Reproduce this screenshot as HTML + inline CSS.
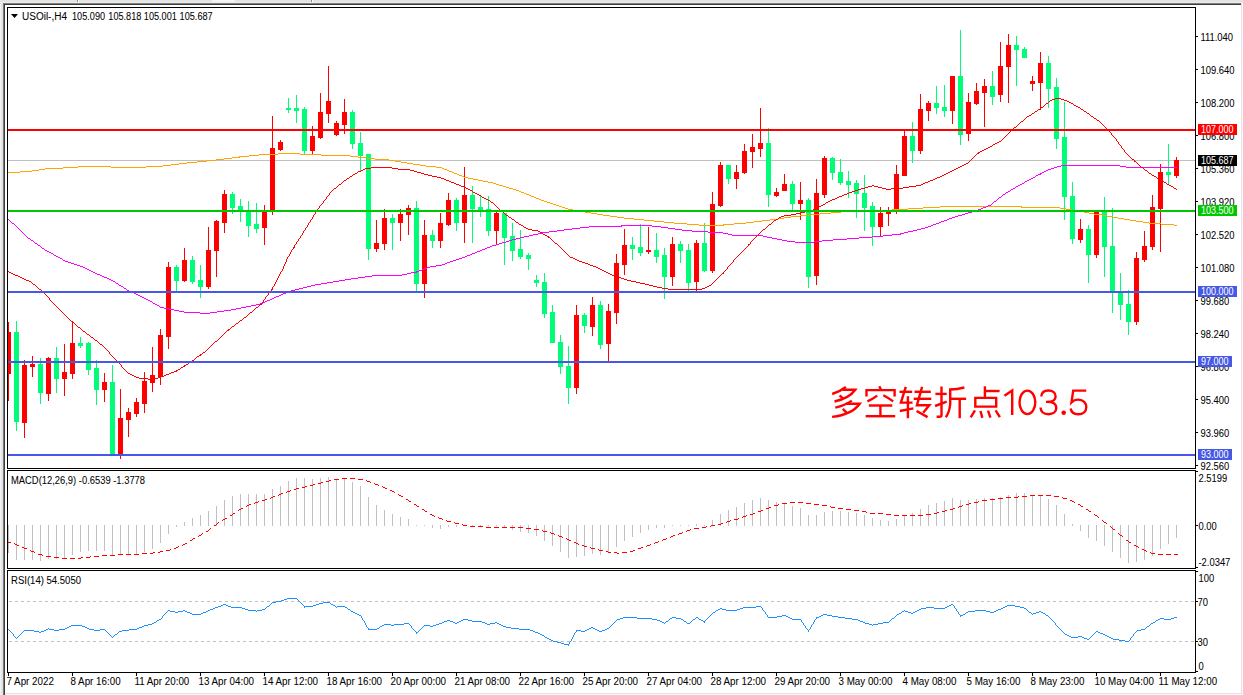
<!DOCTYPE html>
<html><head><meta charset="utf-8"><title>USOil H4</title>
<style>html,body{margin:0;padding:0;background:#e3e3e3;}body{width:1243px;height:695px;overflow:hidden;}svg{display:block;}</style>
</head><body>
<svg width="1243" height="695" viewBox="0 0 1243 695">
<rect x="0" y="0" width="1243" height="695" fill="#e3e3e3"/>
<rect x="212" y="0" width="23" height="2" fill="#f4f4f4"/>
<rect x="77" y="0" width="1" height="3" fill="#8c8c8c"/>
<rect x="78" y="0" width="1" height="3" fill="#fafafa"/>
<rect x="311" y="0" width="1" height="3" fill="#8c8c8c"/>
<rect x="312" y="0" width="1" height="3" fill="#fafafa"/>
<rect x="0" y="2" width="1243" height="1" fill="#ebebeb"/>
<rect x="0" y="4" width="1" height="691" fill="#f2f2f2"/>
<rect x="3" y="3" width="1238" height="1" fill="#808080"/>
<rect x="3" y="3" width="1" height="692" fill="#7a7a7a"/>
<rect x="4" y="4" width="1237" height="1" fill="#3c3c3c"/>
<rect x="4" y="4" width="1" height="691" fill="#3c3c3c"/>
<rect x="5" y="5" width="1236" height="688" fill="#ffffff"/>
<rect x="1241" y="4" width="1" height="690" fill="#e4e4e4"/>
<rect x="5" y="693" width="1237" height="1" fill="#e4e4e4"/>
<rect x="1242" y="3" width="1" height="692" fill="#fafafa"/>
<rect x="5" y="694" width="1238" height="1" fill="#fafafa"/>
<rect x="7" y="7" width="1189" height="1" fill="#000"/>
<rect x="7" y="468" width="1189" height="1" fill="#000"/>
<rect x="7" y="7" width="1" height="462" fill="#000"/>
<rect x="1195" y="7" width="1" height="462" fill="#000"/>
<rect x="7" y="470" width="1189" height="1" fill="#000"/>
<rect x="7" y="568" width="1189" height="1" fill="#000"/>
<rect x="7" y="470" width="1" height="99" fill="#000"/>
<rect x="1195" y="470" width="1" height="99" fill="#000"/>
<rect x="7" y="570" width="1189" height="1" fill="#000"/>
<rect x="7" y="672" width="1189" height="1" fill="#000"/>
<rect x="7" y="570" width="1" height="103" fill="#000"/>
<rect x="1195" y="570" width="1" height="103" fill="#000"/>
<defs><clipPath id="cm"><rect x="8" y="8" width="1187" height="460"/></clipPath><clipPath id="cd"><rect x="8" y="471" width="1187" height="97"/></clipPath><clipPath id="cr"><rect x="8" y="571" width="1187" height="101"/></clipPath></defs>
<g clip-path="url(#cm)">
<rect x="8" y="160" width="1187" height="1" fill="#c0c0c0"/>
<rect x="8" y="322" width="1" height="79" fill="#ff0000"/>
<rect x="6" y="332" width="5" height="42" fill="#ff0000"/>
<rect x="16" y="321" width="1" height="110" fill="#00fd78"/>
<rect x="14" y="332" width="5" height="90" fill="#00fd78"/>
<rect x="24" y="360" width="1" height="78" fill="#ff0000"/>
<rect x="22" y="365" width="5" height="58" fill="#ff0000"/>
<rect x="32" y="356" width="1" height="21" fill="#ff0000"/>
<rect x="30" y="364" width="5" height="3" fill="#ff0000"/>
<rect x="40" y="358" width="1" height="46" fill="#00fd78"/>
<rect x="38" y="364" width="5" height="29" fill="#00fd78"/>
<rect x="48" y="357" width="1" height="44" fill="#ff0000"/>
<rect x="46" y="358" width="5" height="36" fill="#ff0000"/>
<rect x="56" y="347" width="1" height="46" fill="#00fd78"/>
<rect x="54" y="358" width="5" height="21" fill="#00fd78"/>
<rect x="64" y="344" width="1" height="52" fill="#ff0000"/>
<rect x="62" y="372" width="5" height="7" fill="#ff0000"/>
<rect x="72" y="322" width="1" height="57" fill="#ff0000"/>
<rect x="70" y="343" width="5" height="31" fill="#ff0000"/>
<rect x="80" y="337" width="1" height="11" fill="#00fd78"/>
<rect x="78" y="343" width="5" height="3" fill="#00fd78"/>
<rect x="88" y="342" width="1" height="33" fill="#00fd78"/>
<rect x="86" y="343" width="5" height="27" fill="#00fd78"/>
<rect x="96" y="360" width="1" height="45" fill="#00fd78"/>
<rect x="94" y="368" width="5" height="22" fill="#00fd78"/>
<rect x="104" y="373" width="1" height="29" fill="#ff0000"/>
<rect x="102" y="382" width="5" height="8" fill="#ff0000"/>
<rect x="112" y="365" width="1" height="90" fill="#00fd78"/>
<rect x="110" y="382" width="5" height="73" fill="#00fd78"/>
<rect x="120" y="389" width="1" height="70" fill="#ff0000"/>
<rect x="118" y="418" width="5" height="37" fill="#ff0000"/>
<rect x="128" y="408" width="1" height="29" fill="#ff0000"/>
<rect x="126" y="412" width="5" height="8" fill="#ff0000"/>
<rect x="136" y="398" width="1" height="19" fill="#ff0000"/>
<rect x="134" y="402" width="5" height="12" fill="#ff0000"/>
<rect x="144" y="372" width="1" height="41" fill="#ff0000"/>
<rect x="142" y="381" width="5" height="23" fill="#ff0000"/>
<rect x="152" y="347" width="1" height="45" fill="#ff0000"/>
<rect x="150" y="375" width="5" height="8" fill="#ff0000"/>
<rect x="160" y="329" width="1" height="56" fill="#ff0000"/>
<rect x="158" y="335" width="5" height="42" fill="#ff0000"/>
<rect x="168" y="262" width="1" height="87" fill="#ff0000"/>
<rect x="166" y="267" width="5" height="70" fill="#ff0000"/>
<rect x="176" y="265" width="1" height="27" fill="#00fd78"/>
<rect x="174" y="267" width="5" height="14" fill="#00fd78"/>
<rect x="184" y="248" width="1" height="34" fill="#ff0000"/>
<rect x="182" y="260" width="5" height="21" fill="#ff0000"/>
<rect x="192" y="256" width="1" height="28" fill="#00fd78"/>
<rect x="190" y="260" width="5" height="22" fill="#00fd78"/>
<rect x="200" y="265" width="1" height="33" fill="#00fd78"/>
<rect x="198" y="280" width="5" height="7" fill="#00fd78"/>
<rect x="208" y="227" width="1" height="62" fill="#ff0000"/>
<rect x="206" y="250" width="5" height="37" fill="#ff0000"/>
<rect x="216" y="220" width="1" height="57" fill="#ff0000"/>
<rect x="214" y="221" width="5" height="30" fill="#ff0000"/>
<rect x="224" y="190" width="1" height="43" fill="#ff0000"/>
<rect x="222" y="194" width="5" height="29" fill="#ff0000"/>
<rect x="232" y="192" width="1" height="22" fill="#00fd78"/>
<rect x="230" y="194" width="5" height="14" fill="#00fd78"/>
<rect x="240" y="199" width="1" height="23" fill="#00fd78"/>
<rect x="238" y="206" width="5" height="5" fill="#00fd78"/>
<rect x="248" y="201" width="1" height="36" fill="#00fd78"/>
<rect x="246" y="212" width="5" height="14" fill="#00fd78"/>
<rect x="256" y="203" width="1" height="30" fill="#00fd78"/>
<rect x="254" y="224" width="5" height="5" fill="#00fd78"/>
<rect x="264" y="205" width="1" height="40" fill="#ff0000"/>
<rect x="262" y="212" width="5" height="16" fill="#ff0000"/>
<rect x="272" y="116" width="1" height="99" fill="#ff0000"/>
<rect x="270" y="148" width="5" height="64" fill="#ff0000"/>
<rect x="280" y="140" width="1" height="11" fill="#ff0000"/>
<rect x="278" y="142" width="5" height="8" fill="#ff0000"/>
<rect x="288" y="98" width="1" height="15" fill="#00fd78"/>
<rect x="286" y="108" width="5" height="2" fill="#00fd78"/>
<rect x="296" y="95" width="1" height="28" fill="#00fd78"/>
<rect x="294" y="108" width="5" height="3" fill="#00fd78"/>
<rect x="304" y="107" width="1" height="48" fill="#00fd78"/>
<rect x="302" y="109" width="5" height="42" fill="#00fd78"/>
<rect x="312" y="126" width="1" height="29" fill="#ff0000"/>
<rect x="310" y="136" width="5" height="15" fill="#ff0000"/>
<rect x="320" y="93" width="1" height="46" fill="#ff0000"/>
<rect x="318" y="112" width="5" height="26" fill="#ff0000"/>
<rect x="328" y="66" width="1" height="57" fill="#ff0000"/>
<rect x="326" y="101" width="5" height="13" fill="#ff0000"/>
<rect x="336" y="121" width="1" height="15" fill="#ff0000"/>
<rect x="334" y="123" width="5" height="12" fill="#ff0000"/>
<rect x="344" y="99" width="1" height="35" fill="#ff0000"/>
<rect x="342" y="112" width="5" height="13" fill="#ff0000"/>
<rect x="352" y="110" width="1" height="39" fill="#00fd78"/>
<rect x="350" y="112" width="5" height="32" fill="#00fd78"/>
<rect x="360" y="132" width="1" height="40" fill="#00fd78"/>
<rect x="358" y="143" width="5" height="13" fill="#00fd78"/>
<rect x="368" y="154" width="1" height="106" fill="#00fd78"/>
<rect x="366" y="154" width="5" height="95" fill="#00fd78"/>
<rect x="376" y="220" width="1" height="32" fill="#ff0000"/>
<rect x="374" y="243" width="5" height="6" fill="#ff0000"/>
<rect x="384" y="209" width="1" height="41" fill="#ff0000"/>
<rect x="382" y="218" width="5" height="26" fill="#ff0000"/>
<rect x="392" y="214" width="1" height="36" fill="#00fd78"/>
<rect x="390" y="218" width="5" height="5" fill="#00fd78"/>
<rect x="400" y="209" width="1" height="32" fill="#ff0000"/>
<rect x="398" y="214" width="5" height="9" fill="#ff0000"/>
<rect x="408" y="205" width="1" height="30" fill="#ff0000"/>
<rect x="406" y="208" width="5" height="7" fill="#ff0000"/>
<rect x="416" y="201" width="1" height="91" fill="#00fd78"/>
<rect x="414" y="208" width="5" height="76" fill="#00fd78"/>
<rect x="424" y="220" width="1" height="78" fill="#ff0000"/>
<rect x="422" y="235" width="5" height="49" fill="#ff0000"/>
<rect x="432" y="230" width="1" height="18" fill="#00fd78"/>
<rect x="430" y="235" width="5" height="6" fill="#00fd78"/>
<rect x="440" y="213" width="1" height="35" fill="#ff0000"/>
<rect x="438" y="223" width="5" height="18" fill="#ff0000"/>
<rect x="448" y="193" width="1" height="33" fill="#ff0000"/>
<rect x="446" y="200" width="5" height="25" fill="#ff0000"/>
<rect x="456" y="198" width="1" height="33" fill="#00fd78"/>
<rect x="454" y="200" width="5" height="23" fill="#00fd78"/>
<rect x="464" y="167" width="1" height="76" fill="#ff0000"/>
<rect x="462" y="195" width="5" height="28" fill="#ff0000"/>
<rect x="472" y="186" width="1" height="57" fill="#00fd78"/>
<rect x="470" y="195" width="5" height="14" fill="#00fd78"/>
<rect x="480" y="195" width="1" height="22" fill="#00fd78"/>
<rect x="478" y="207" width="5" height="3" fill="#00fd78"/>
<rect x="488" y="196" width="1" height="40" fill="#00fd78"/>
<rect x="486" y="209" width="5" height="22" fill="#00fd78"/>
<rect x="496" y="212" width="1" height="33" fill="#ff0000"/>
<rect x="494" y="213" width="5" height="18" fill="#ff0000"/>
<rect x="504" y="213" width="1" height="52" fill="#00fd78"/>
<rect x="502" y="213" width="5" height="25" fill="#00fd78"/>
<rect x="512" y="223" width="1" height="38" fill="#00fd78"/>
<rect x="510" y="236" width="5" height="15" fill="#00fd78"/>
<rect x="520" y="230" width="1" height="29" fill="#00fd78"/>
<rect x="518" y="249" width="5" height="8" fill="#00fd78"/>
<rect x="528" y="253" width="1" height="17" fill="#00fd78"/>
<rect x="526" y="255" width="5" height="4" fill="#00fd78"/>
<rect x="536" y="275" width="1" height="12" fill="#00fd78"/>
<rect x="534" y="280" width="5" height="3" fill="#00fd78"/>
<rect x="544" y="273" width="1" height="45" fill="#00fd78"/>
<rect x="542" y="282" width="5" height="32" fill="#00fd78"/>
<rect x="552" y="305" width="1" height="38" fill="#00fd78"/>
<rect x="550" y="312" width="5" height="31" fill="#00fd78"/>
<rect x="560" y="335" width="1" height="39" fill="#00fd78"/>
<rect x="558" y="342" width="5" height="25" fill="#00fd78"/>
<rect x="568" y="346" width="1" height="58" fill="#00fd78"/>
<rect x="566" y="366" width="5" height="22" fill="#00fd78"/>
<rect x="576" y="305" width="1" height="89" fill="#ff0000"/>
<rect x="574" y="315" width="5" height="73" fill="#ff0000"/>
<rect x="584" y="313" width="1" height="20" fill="#00fd78"/>
<rect x="582" y="315" width="5" height="11" fill="#00fd78"/>
<rect x="592" y="297" width="1" height="39" fill="#ff0000"/>
<rect x="590" y="305" width="5" height="22" fill="#ff0000"/>
<rect x="600" y="301" width="1" height="48" fill="#00fd78"/>
<rect x="598" y="305" width="5" height="40" fill="#00fd78"/>
<rect x="608" y="304" width="1" height="58" fill="#ff0000"/>
<rect x="606" y="311" width="5" height="33" fill="#ff0000"/>
<rect x="616" y="254" width="1" height="70" fill="#ff0000"/>
<rect x="614" y="263" width="5" height="50" fill="#ff0000"/>
<rect x="624" y="229" width="1" height="46" fill="#ff0000"/>
<rect x="622" y="245" width="5" height="20" fill="#ff0000"/>
<rect x="632" y="237" width="1" height="23" fill="#00fd78"/>
<rect x="630" y="245" width="5" height="4" fill="#00fd78"/>
<rect x="640" y="224" width="1" height="32" fill="#00fd78"/>
<rect x="638" y="247" width="5" height="6" fill="#00fd78"/>
<rect x="648" y="227" width="1" height="27" fill="#ff0000"/>
<rect x="646" y="250" width="5" height="2" fill="#ff0000"/>
<rect x="656" y="233" width="1" height="30" fill="#00fd78"/>
<rect x="654" y="250" width="5" height="7" fill="#00fd78"/>
<rect x="664" y="248" width="1" height="51" fill="#00fd78"/>
<rect x="662" y="255" width="5" height="22" fill="#00fd78"/>
<rect x="672" y="237" width="1" height="49" fill="#ff0000"/>
<rect x="670" y="244" width="5" height="33" fill="#ff0000"/>
<rect x="680" y="241" width="1" height="22" fill="#00fd78"/>
<rect x="678" y="244" width="5" height="7" fill="#00fd78"/>
<rect x="688" y="244" width="1" height="47" fill="#00fd78"/>
<rect x="686" y="250" width="5" height="33" fill="#00fd78"/>
<rect x="696" y="240" width="1" height="51" fill="#ff0000"/>
<rect x="694" y="243" width="5" height="39" fill="#ff0000"/>
<rect x="704" y="223" width="1" height="49" fill="#00fd78"/>
<rect x="702" y="243" width="5" height="28" fill="#00fd78"/>
<rect x="712" y="192" width="1" height="81" fill="#ff0000"/>
<rect x="710" y="204" width="5" height="67" fill="#ff0000"/>
<rect x="720" y="162" width="1" height="45" fill="#ff0000"/>
<rect x="718" y="165" width="5" height="41" fill="#ff0000"/>
<rect x="728" y="165" width="1" height="19" fill="#00fd78"/>
<rect x="726" y="165" width="5" height="14" fill="#00fd78"/>
<rect x="736" y="165" width="1" height="24" fill="#ff0000"/>
<rect x="734" y="172" width="5" height="7" fill="#ff0000"/>
<rect x="744" y="144" width="1" height="30" fill="#ff0000"/>
<rect x="742" y="151" width="5" height="22" fill="#ff0000"/>
<rect x="752" y="134" width="1" height="34" fill="#ff0000"/>
<rect x="750" y="147" width="5" height="5" fill="#ff0000"/>
<rect x="760" y="108" width="1" height="49" fill="#ff0000"/>
<rect x="758" y="143" width="5" height="6" fill="#ff0000"/>
<rect x="768" y="128" width="1" height="79" fill="#00fd78"/>
<rect x="766" y="143" width="5" height="52" fill="#00fd78"/>
<rect x="776" y="188" width="1" height="9" fill="#ff0000"/>
<rect x="774" y="192" width="5" height="4" fill="#ff0000"/>
<rect x="784" y="174" width="1" height="17" fill="#ff0000"/>
<rect x="782" y="184" width="5" height="7" fill="#ff0000"/>
<rect x="792" y="181" width="1" height="31" fill="#00fd78"/>
<rect x="790" y="184" width="5" height="20" fill="#00fd78"/>
<rect x="800" y="182" width="1" height="38" fill="#ff0000"/>
<rect x="798" y="200" width="5" height="4" fill="#ff0000"/>
<rect x="808" y="198" width="1" height="90" fill="#00fd78"/>
<rect x="806" y="200" width="5" height="77" fill="#00fd78"/>
<rect x="816" y="179" width="1" height="106" fill="#ff0000"/>
<rect x="814" y="193" width="5" height="83" fill="#ff0000"/>
<rect x="824" y="156" width="1" height="42" fill="#ff0000"/>
<rect x="822" y="158" width="5" height="37" fill="#ff0000"/>
<rect x="832" y="157" width="1" height="23" fill="#00fd78"/>
<rect x="830" y="158" width="5" height="15" fill="#00fd78"/>
<rect x="840" y="159" width="1" height="26" fill="#00fd78"/>
<rect x="838" y="172" width="5" height="11" fill="#00fd78"/>
<rect x="848" y="171" width="1" height="27" fill="#00fd78"/>
<rect x="846" y="181" width="5" height="4" fill="#00fd78"/>
<rect x="856" y="180" width="1" height="38" fill="#00fd78"/>
<rect x="854" y="183" width="5" height="11" fill="#00fd78"/>
<rect x="864" y="175" width="1" height="56" fill="#00fd78"/>
<rect x="862" y="193" width="5" height="15" fill="#00fd78"/>
<rect x="872" y="202" width="1" height="44" fill="#00fd78"/>
<rect x="870" y="206" width="5" height="21" fill="#00fd78"/>
<rect x="880" y="207" width="1" height="30" fill="#ff0000"/>
<rect x="878" y="213" width="5" height="14" fill="#ff0000"/>
<rect x="888" y="207" width="1" height="19" fill="#ff0000"/>
<rect x="886" y="212" width="5" height="2" fill="#ff0000"/>
<rect x="896" y="165" width="1" height="49" fill="#ff0000"/>
<rect x="894" y="174" width="5" height="37" fill="#ff0000"/>
<rect x="904" y="131" width="1" height="45" fill="#ff0000"/>
<rect x="902" y="136" width="5" height="40" fill="#ff0000"/>
<rect x="912" y="122" width="1" height="41" fill="#00fd78"/>
<rect x="910" y="136" width="5" height="15" fill="#00fd78"/>
<rect x="920" y="94" width="1" height="60" fill="#ff0000"/>
<rect x="918" y="109" width="5" height="42" fill="#ff0000"/>
<rect x="928" y="101" width="1" height="20" fill="#ff0000"/>
<rect x="926" y="103" width="5" height="8" fill="#ff0000"/>
<rect x="936" y="86" width="1" height="28" fill="#00fd78"/>
<rect x="934" y="103" width="5" height="5" fill="#00fd78"/>
<rect x="944" y="85" width="1" height="32" fill="#00fd78"/>
<rect x="942" y="107" width="5" height="4" fill="#00fd78"/>
<rect x="952" y="76" width="1" height="48" fill="#ff0000"/>
<rect x="950" y="76" width="5" height="35" fill="#ff0000"/>
<rect x="960" y="30" width="1" height="115" fill="#00fd78"/>
<rect x="958" y="76" width="5" height="59" fill="#00fd78"/>
<rect x="968" y="93" width="1" height="48" fill="#ff0000"/>
<rect x="966" y="102" width="5" height="32" fill="#ff0000"/>
<rect x="976" y="83" width="1" height="22" fill="#ff0000"/>
<rect x="974" y="91" width="5" height="13" fill="#ff0000"/>
<rect x="984" y="79" width="1" height="48" fill="#ff0000"/>
<rect x="982" y="86" width="5" height="7" fill="#ff0000"/>
<rect x="992" y="71" width="1" height="34" fill="#00fd78"/>
<rect x="990" y="86" width="5" height="11" fill="#00fd78"/>
<rect x="1000" y="42" width="1" height="60" fill="#ff0000"/>
<rect x="998" y="66" width="5" height="29" fill="#ff0000"/>
<rect x="1008" y="34" width="1" height="69" fill="#ff0000"/>
<rect x="1006" y="45" width="5" height="22" fill="#ff0000"/>
<rect x="1016" y="36" width="1" height="50" fill="#00fd78"/>
<rect x="1014" y="45" width="5" height="5" fill="#00fd78"/>
<rect x="1024" y="47" width="1" height="11" fill="#00fd78"/>
<rect x="1022" y="49" width="5" height="9" fill="#00fd78"/>
<rect x="1032" y="76" width="1" height="15" fill="#ff0000"/>
<rect x="1030" y="81" width="5" height="3" fill="#ff0000"/>
<rect x="1040" y="52" width="1" height="58" fill="#ff0000"/>
<rect x="1038" y="63" width="5" height="20" fill="#ff0000"/>
<rect x="1048" y="56" width="1" height="52" fill="#00fd78"/>
<rect x="1046" y="63" width="5" height="26" fill="#00fd78"/>
<rect x="1056" y="78" width="1" height="71" fill="#00fd78"/>
<rect x="1054" y="87" width="5" height="52" fill="#00fd78"/>
<rect x="1064" y="102" width="1" height="118" fill="#00fd78"/>
<rect x="1062" y="137" width="5" height="60" fill="#00fd78"/>
<rect x="1072" y="182" width="1" height="62" fill="#00fd78"/>
<rect x="1070" y="196" width="5" height="43" fill="#00fd78"/>
<rect x="1080" y="219" width="1" height="24" fill="#ff0000"/>
<rect x="1078" y="229" width="5" height="11" fill="#ff0000"/>
<rect x="1088" y="225" width="1" height="58" fill="#00fd78"/>
<rect x="1086" y="229" width="5" height="26" fill="#00fd78"/>
<rect x="1096" y="212" width="1" height="46" fill="#ff0000"/>
<rect x="1094" y="212" width="5" height="43" fill="#ff0000"/>
<rect x="1104" y="197" width="1" height="80" fill="#00fd78"/>
<rect x="1102" y="212" width="5" height="35" fill="#00fd78"/>
<rect x="1112" y="208" width="1" height="105" fill="#00fd78"/>
<rect x="1110" y="246" width="5" height="46" fill="#00fd78"/>
<rect x="1120" y="273" width="1" height="47" fill="#00fd78"/>
<rect x="1118" y="293" width="5" height="12" fill="#00fd78"/>
<rect x="1128" y="290" width="1" height="45" fill="#00fd78"/>
<rect x="1126" y="304" width="5" height="18" fill="#00fd78"/>
<rect x="1136" y="252" width="1" height="73" fill="#ff0000"/>
<rect x="1134" y="258" width="5" height="64" fill="#ff0000"/>
<rect x="1144" y="231" width="1" height="31" fill="#ff0000"/>
<rect x="1142" y="246" width="5" height="14" fill="#ff0000"/>
<rect x="1152" y="195" width="1" height="55" fill="#ff0000"/>
<rect x="1150" y="207" width="5" height="40" fill="#ff0000"/>
<rect x="1160" y="164" width="1" height="88" fill="#ff0000"/>
<rect x="1158" y="172" width="5" height="37" fill="#ff0000"/>
<rect x="1168" y="144" width="1" height="40" fill="#00fd78"/>
<rect x="1166" y="172" width="5" height="3" fill="#00fd78"/>
<rect x="1176" y="157" width="1" height="21" fill="#ff0000"/>
<rect x="1174" y="160" width="5" height="16" fill="#ff0000"/>
<path d="M278 153h22v1h-22zM259 154h19v1h-19zM300 154h21v1h-21zM249 155h10v1h-10zM321 155h29v1h-29zM239 156h10v1h-10zM350 156h8v1h-8zM232 157h8v1h-8zM358 157h9v1h-9zM224 158h8v1h-8zM367 158h8v1h-8zM216 159h8v1h-8zM375 159h14v1h-14zM207 160h9v1h-9zM389 160h6v1h-6zM197 161h10v1h-10zM395 161h6v1h-6zM187 162h10v1h-10zM401 162h6v1h-6zM179 163h8v1h-8zM407 163h6v1h-6zM171 164h8v1h-8zM413 164h7v1h-7zM163 165h8v1h-8zM420 165h6v1h-6zM78 166h33v1h-33zM146 166h17v1h-17zM426 166h10v1h-10zM63 167h15v1h-15zM111 167h35v1h-35zM436 167h6v1h-6zM45 168h18v1h-18zM442 168h2v1h-2zM39 169h6v1h-6zM444 169h3v1h-3zM32 170h7v1h-7zM447 170h2v1h-2zM20 171h12v1h-12zM449 171h3v1h-3zM8 172h12v1h-12zM452 172h2v1h-2zM454 173h3v1h-3zM457 174h2v1h-2zM459 175h3v1h-3zM462 176h2v1h-2zM464 177h4v1h-4zM468 178h5v1h-5zM473 179h5v1h-5zM478 180h5v1h-5zM483 181h5v1h-5zM488 182h5v1h-5zM493 183h3v1h-3zM496 184h3v1h-3zM499 185h4v1h-4zM503 186h3v1h-3zM506 187h3v1h-3zM509 188h4v1h-4zM513 189h3v1h-3zM516 190h3v1h-3zM519 191h2v1h-2zM521 192h3v1h-3zM524 193h2v1h-2zM526 194h3v1h-3zM529 195h2v1h-2zM531 196h3v1h-3zM534 197h2v1h-2zM536 198h3v1h-3zM539 199h2v1h-2zM541 200h3v1h-3zM544 201h3v1h-3zM547 202h3v1h-3zM550 203h3v1h-3zM553 204h3v1h-3zM556 205h3v1h-3zM559 206h3v1h-3zM940 206h82v1h-82zM562 207h3v1h-3zM923 207h17v1h-17zM1021 207h39v1h-39zM565 208h3v1h-3zM908 208h15v1h-15zM1060 208h6v1h-6zM568 209h5v1h-5zM892 209h16v1h-16zM1066 209h6v1h-6zM573 210h6v1h-6zM864 210h28v1h-28zM1072 210h6v1h-6zM579 211h6v1h-6zM841 211h23v1h-23zM1078 211h6v1h-6zM585 212h6v1h-6zM831 212h10v1h-10zM1084 212h5v1h-5zM591 213h6v1h-6zM820 213h11v1h-11zM1089 213h5v1h-5zM597 214h6v1h-6zM810 214h10v1h-10zM1094 214h8v1h-8zM603 215h7v1h-7zM800 215h10v1h-10zM1102 215h5v1h-5zM610 216h7v1h-7zM791 216h9v1h-9zM1107 216h6v1h-6zM617 217h7v1h-7zM784 217h7v1h-7zM1113 217h5v1h-5zM624 218h10v1h-10zM778 218h6v1h-6zM1118 218h6v1h-6zM634 219h10v1h-10zM770 219h8v1h-8zM1124 219h6v1h-6zM644 220h10v1h-10zM762 220h8v1h-8zM1130 220h6v1h-6zM654 221h10v1h-10zM754 221h8v1h-8zM1136 221h7v1h-7zM664 222h10v1h-10zM746 222h8v1h-8zM1143 222h6v1h-6zM674 223h13v1h-13zM734 223h12v1h-12zM1149 223h12v1h-12zM687 224h12v1h-12zM723 224h11v1h-11zM1161 224h13v1h-13zM699 225h25v1h-25zM1174 225h3v1h-3z" fill="#ffa500"/>
<path d="M1061 165h59v1h-59zM1057 166h4v1h-4zM1120 166h6v1h-6zM1054 167h3v1h-3zM1126 167h51v1h-51zM1051 168h3v1h-3zM1048 169h3v1h-3zM1046 170h2v1h-2zM1044 171h2v1h-2zM1042 172h2v1h-2zM1040 173h2v1h-2zM1038 174h3v1h-3zM1036 175h2v1h-2zM1035 176h1v1h-1zM1033 177h2v1h-2zM1031 178h2v1h-2zM1029 179h2v1h-2zM1027 180h2v1h-2zM1025 181h2v1h-2zM1024 182h1v1h-1zM1022 183h2v1h-2zM1020 184h2v1h-2zM1018 185h2v1h-2zM1016 186h2v1h-2zM1015 187h1v1h-1zM1013 188h2v1h-2zM1011 189h2v1h-2zM1010 190h1v1h-1zM1008 191h2v1h-2zM1006 192h2v1h-2zM1005 193h1v1h-1zM1003 194h2v1h-2zM1002 195h1v1h-1zM1001 196h1v1h-1zM999 197h2v1h-2zM998 198h1v1h-1zM997 199h1v1h-1zM996 200h1v1h-1zM994 201h2v1h-2zM993 202h1v1h-1zM992 203h1v1h-1zM991 204h1v1h-1zM988 205h3v1h-3zM986 206h2v1h-2zM983 207h3v1h-3zM981 208h2v1h-2zM978 209h3v1h-3zM975 210h3v1h-3zM972 211h3v1h-3zM968 212h4v1h-4zM965 213h3v1h-3zM962 214h3v1h-3zM958 215h4v1h-4zM955 216h3v1h-3zM952 217h3v1h-3zM949 218h3v1h-3zM8 219h1v1h-1zM947 219h2v1h-2zM9 220h1v1h-1zM944 220h3v1h-3zM10 221h1v1h-1zM941 221h3v1h-3zM11 222h1v1h-1zM939 222h2v1h-2zM12 223h2v1h-2zM936 223h3v1h-3zM14 224h1v1h-1zM933 224h3v1h-3zM15 225h1v1h-1zM621 225h31v1h-31zM931 225h2v1h-2zM16 226h1v1h-1zM589 226h33v1h-33zM652 226h9v1h-9zM928 226h3v1h-3zM17 227h1v1h-1zM580 227h9v1h-9zM661 227h7v1h-7zM925 227h3v1h-3zM18 228h1v1h-1zM572 228h8v1h-8zM668 228h7v1h-7zM921 228h4v1h-4zM19 229h1v1h-1zM564 229h8v1h-8zM675 229h7v1h-7zM917 229h4v1h-4zM20 230h1v1h-1zM557 230h7v1h-7zM682 230h10v1h-10zM913 230h4v1h-4zM21 231h1v1h-1zM549 231h8v1h-8zM692 231h16v1h-16zM908 231h5v1h-5zM22 232h1v1h-1zM542 232h7v1h-7zM708 232h15v1h-15zM904 232h4v1h-4zM23 233h1v1h-1zM538 233h4v1h-4zM723 233h5v1h-5zM900 233h4v1h-4zM24 234h1v1h-1zM533 234h5v1h-5zM728 234h4v1h-4zM892 234h9v1h-9zM25 235h1v1h-1zM529 235h4v1h-4zM732 235h31v1h-31zM883 235h9v1h-9zM26 236h1v1h-1zM524 236h5v1h-5zM763 236h4v1h-4zM872 236h11v1h-11zM27 237h1v1h-1zM520 237h4v1h-4zM767 237h5v1h-5zM859 237h13v1h-13zM28 238h2v1h-2zM516 238h4v1h-4zM772 238h5v1h-5zM847 238h12v1h-12zM30 239h1v1h-1zM512 239h4v1h-4zM777 239h5v1h-5zM833 239h14v1h-14zM31 240h2v1h-2zM509 240h3v1h-3zM782 240h5v1h-5zM822 240h11v1h-11zM33 241h1v1h-1zM506 241h3v1h-3zM787 241h8v1h-8zM814 241h8v1h-8zM34 242h1v1h-1zM502 242h4v1h-4zM795 242h19v1h-19zM35 243h2v1h-2zM499 243h3v1h-3zM37 244h1v1h-1zM496 244h3v1h-3zM38 245h2v1h-2zM492 245h4v1h-4zM40 246h1v1h-1zM490 246h2v1h-2zM41 247h1v1h-1zM487 247h3v1h-3zM42 248h2v1h-2zM485 248h2v1h-2zM44 249h1v1h-1zM482 249h3v1h-3zM45 250h2v1h-2zM480 250h2v1h-2zM47 251h2v1h-2zM477 251h3v1h-3zM49 252h2v1h-2zM475 252h2v1h-2zM51 253h2v1h-2zM472 253h3v1h-3zM53 254h1v1h-1zM470 254h2v1h-2zM54 255h2v1h-2zM467 255h3v1h-3zM56 256h2v1h-2zM465 256h2v1h-2zM58 257h2v1h-2zM462 257h3v1h-3zM60 258h2v1h-2zM459 258h3v1h-3zM62 259h1v1h-1zM456 259h3v1h-3zM63 260h2v1h-2zM453 260h3v1h-3zM65 261h3v1h-3zM450 261h3v1h-3zM68 262h3v1h-3zM447 262h3v1h-3zM71 263h3v1h-3zM445 263h2v1h-2zM74 264h3v1h-3zM442 264h3v1h-3zM77 265h3v1h-3zM436 265h6v1h-6zM80 266h3v1h-3zM430 266h6v1h-6zM83 267h2v1h-2zM427 267h3v1h-3zM85 268h2v1h-2zM424 268h3v1h-3zM87 269h2v1h-2zM422 269h2v1h-2zM89 270h2v1h-2zM419 270h3v1h-3zM91 271h2v1h-2zM416 271h3v1h-3zM93 272h2v1h-2zM411 272h6v1h-6zM95 273h2v1h-2zM407 273h4v1h-4zM97 274h3v1h-3zM402 274h5v1h-5zM100 275h2v1h-2zM372 275h30v1h-30zM102 276h2v1h-2zM365 276h7v1h-7zM104 277h3v1h-3zM358 277h7v1h-7zM107 278h2v1h-2zM351 278h7v1h-7zM109 279h2v1h-2zM345 279h6v1h-6zM111 280h2v1h-2zM339 280h6v1h-6zM113 281h2v1h-2zM333 281h6v1h-6zM115 282h1v1h-1zM327 282h6v1h-6zM116 283h2v1h-2zM321 283h6v1h-6zM118 284h1v1h-1zM315 284h6v1h-6zM119 285h2v1h-2zM311 285h4v1h-4zM121 286h2v1h-2zM307 286h4v1h-4zM123 287h1v1h-1zM303 287h4v1h-4zM124 288h2v1h-2zM299 288h4v1h-4zM126 289h1v1h-1zM295 289h4v1h-4zM127 290h2v1h-2zM291 290h4v1h-4zM129 291h2v1h-2zM288 291h3v1h-3zM131 292h3v1h-3zM286 292h2v1h-2zM134 293h2v1h-2zM283 293h3v1h-3zM136 294h2v1h-2zM281 294h2v1h-2zM138 295h2v1h-2zM279 295h2v1h-2zM140 296h2v1h-2zM276 296h3v1h-3zM142 297h2v1h-2zM274 297h2v1h-2zM144 298h2v1h-2zM272 298h2v1h-2zM146 299h2v1h-2zM270 299h2v1h-2zM148 300h2v1h-2zM267 300h3v1h-3zM150 301h2v1h-2zM265 301h2v1h-2zM152 302h1v1h-1zM263 302h2v1h-2zM153 303h2v1h-2zM260 303h3v1h-3zM155 304h2v1h-2zM256 304h5v1h-5zM157 305h2v1h-2zM251 305h5v1h-5zM159 306h1v1h-1zM246 306h5v1h-5zM160 307h4v1h-4zM241 307h5v1h-5zM164 308h5v1h-5zM236 308h5v1h-5zM169 309h5v1h-5zM231 309h5v1h-5zM174 310h5v1h-5zM224 310h7v1h-7zM179 311h5v1h-5zM217 311h7v1h-7zM184 312h16v1h-16zM210 312h7v1h-7zM200 313h10v1h-10z" fill="#ff00ff"/>
<path d="M1055 98h6v1h-6zM1052 99h3v1h-3zM1061 99h3v1h-3zM1050 100h2v1h-2zM1064 100h3v1h-3zM1049 101h1v1h-1zM1067 101h2v1h-2zM1048 102h1v1h-1zM1069 102h2v1h-2zM1046 103h2v1h-2zM1071 103h2v1h-2zM1045 104h1v1h-1zM1073 104h1v1h-1zM1044 105h1v1h-1zM1074 105h2v1h-2zM1043 106h1v1h-1zM1076 106h2v1h-2zM1041 107h2v1h-2zM1078 107h2v1h-2zM1040 108h1v1h-1zM1080 108h1v1h-1zM1038 109h2v1h-2zM1081 109h2v1h-2zM1037 110h1v1h-1zM1083 110h1v1h-1zM1035 111h2v1h-2zM1084 111h2v1h-2zM1034 112h1v1h-1zM1086 112h1v1h-1zM1032 113h2v1h-2zM1087 113h2v1h-2zM1031 114h1v1h-1zM1089 114h1v1h-1zM1029 115h2v1h-2zM1090 115h1v1h-1zM1027 116h2v1h-2zM1091 116h2v1h-2zM1026 117h1v1h-1zM1093 117h1v1h-1zM1025 118h1v1h-1zM1094 118h2v1h-2zM1024 119h1v1h-1zM1096 119h1v1h-1zM1023 120h1v1h-1zM1097 120h2v1h-2zM1021 121h2v1h-2zM1099 121h1v1h-1zM1020 122h1v1h-1zM1100 122h1v1h-1zM1019 123h1v1h-1zM1101 123h1v1h-1zM1018 124h1v1h-1zM1102 124h1v1h-1zM1017 125h1v1h-1zM1103 125h1v1h-1zM1016 126h1v1h-1zM1104 126h1v1h-1zM1014 127h2v1h-2zM1105 127h1v1h-1zM1013 128h1v1h-1zM1106 128h1v1h-1zM1012 129h1v1h-1zM1107 129h1v1h-1zM1011 130h1v1h-1zM1108 130h1v1h-1zM1010 131h1v1h-1zM1109 131h1v1h-1zM1009 132h1v1h-1zM1110 132h1v1h-1zM1008 133h1v1h-1zM1111 133h1v1h-1zM1007 134h1v1h-1zM1111 134h1v1h-1zM1006 135h1v1h-1zM1112 135h1v1h-1zM1005 136h1v1h-1zM1113 136h1v1h-1zM1004 137h1v1h-1zM1114 137h1v1h-1zM1003 138h1v1h-1zM1115 138h1v1h-1zM1002 139h1v1h-1zM1116 139h1v1h-1zM1001 140h1v1h-1zM1116 140h1v1h-1zM999 141h2v1h-2zM1117 141h1v1h-1zM997 142h2v1h-2zM1118 142h1v1h-1zM995 143h2v1h-2zM1118 143h1v1h-1zM993 144h2v1h-2zM1119 144h1v1h-1zM992 145h1v1h-1zM1120 145h1v1h-1zM990 146h2v1h-2zM1121 146h1v1h-1zM988 147h2v1h-2zM1121 147h1v1h-1zM986 148h2v1h-2zM1122 148h1v1h-1zM984 149h2v1h-2zM1123 149h1v1h-1zM982 150h2v1h-2zM1124 150h1v1h-1zM980 151h2v1h-2zM1124 151h1v1h-1zM978 152h2v1h-2zM1125 152h1v1h-1zM977 153h2v1h-2zM1126 153h1v1h-1zM976 154h1v1h-1zM1127 154h1v1h-1zM975 155h1v1h-1zM1128 155h1v1h-1zM974 156h1v1h-1zM1129 156h1v1h-1zM973 157h1v1h-1zM1130 157h1v1h-1zM972 158h1v1h-1zM1131 158h1v1h-1zM971 159h1v1h-1zM1132 159h2v1h-2zM970 160h1v1h-1zM1134 160h1v1h-1zM969 161h1v1h-1zM1134 161h2v1h-2zM968 162h1v1h-1zM1136 162h1v1h-1zM966 163h2v1h-2zM1137 163h1v1h-1zM964 164h2v1h-2zM1138 164h1v1h-1zM962 165h2v1h-2zM1139 165h1v1h-1zM960 166h2v1h-2zM1140 166h1v1h-1zM371 167h21v1h-21zM958 167h2v1h-2zM1141 167h2v1h-2zM365 168h6v1h-6zM392 168h6v1h-6zM956 168h2v1h-2zM1143 168h1v1h-1zM363 169h2v1h-2zM398 169h12v1h-12zM954 169h2v1h-2zM1144 169h1v1h-1zM361 170h2v1h-2zM410 170h4v1h-4zM952 170h2v1h-2zM1145 170h2v1h-2zM358 171h3v1h-3zM414 171h3v1h-3zM950 171h2v1h-2zM1147 171h1v1h-1zM357 172h1v1h-1zM417 172h4v1h-4zM948 172h2v1h-2zM1148 172h1v1h-1zM355 173h2v1h-2zM421 173h3v1h-3zM946 173h2v1h-2zM1149 173h2v1h-2zM353 174h2v1h-2zM424 174h4v1h-4zM944 174h2v1h-2zM1151 174h1v1h-1zM352 175h1v1h-1zM428 175h4v1h-4zM942 175h2v1h-2zM1152 175h2v1h-2zM350 176h2v1h-2zM432 176h5v1h-5zM940 176h2v1h-2zM1154 176h2v1h-2zM349 177h1v1h-1zM437 177h4v1h-4zM937 177h3v1h-3zM1156 177h1v1h-1zM347 178h2v1h-2zM441 178h3v1h-3zM935 178h2v1h-2zM1157 178h2v1h-2zM346 179h1v1h-1zM444 179h2v1h-2zM933 179h2v1h-2zM1159 179h2v1h-2zM344 180h2v1h-2zM446 180h3v1h-3zM930 180h3v1h-3zM1160 180h2v1h-2zM343 181h1v1h-1zM449 181h2v1h-2zM928 181h2v1h-2zM1162 181h2v1h-2zM342 182h1v1h-1zM451 182h3v1h-3zM925 182h3v1h-3zM1164 182h2v1h-2zM341 183h1v1h-1zM454 183h2v1h-2zM923 183h2v1h-2zM1166 183h1v1h-1zM339 184h2v1h-2zM456 184h3v1h-3zM921 184h2v1h-2zM1167 184h2v1h-2zM338 185h1v1h-1zM459 185h2v1h-2zM872 185h2v1h-2zM916 185h5v1h-5zM1169 185h2v1h-2zM337 186h1v1h-1zM461 186h3v1h-3zM868 186h4v1h-4zM874 186h4v1h-4zM909 186h7v1h-7zM1171 186h2v1h-2zM336 187h1v1h-1zM464 187h2v1h-2zM865 187h3v1h-3zM878 187h4v1h-4zM903 187h6v1h-6zM1173 187h1v1h-1zM334 188h2v1h-2zM466 188h2v1h-2zM861 188h4v1h-4zM882 188h4v1h-4zM891 188h12v1h-12zM1174 188h2v1h-2zM333 189h1v1h-1zM468 189h2v1h-2zM858 189h3v1h-3zM886 189h5v1h-5zM1176 189h1v1h-1zM332 190h1v1h-1zM470 190h2v1h-2zM855 190h3v1h-3zM331 191h1v1h-1zM472 191h1v1h-1zM852 191h3v1h-3zM330 192h1v1h-1zM473 192h2v1h-2zM849 192h3v1h-3zM329 193h1v1h-1zM475 193h2v1h-2zM847 193h2v1h-2zM329 194h1v1h-1zM477 194h2v1h-2zM844 194h3v1h-3zM328 195h1v1h-1zM479 195h2v1h-2zM842 195h2v1h-2zM327 196h1v1h-1zM481 196h1v1h-1zM839 196h3v1h-3zM326 197h1v1h-1zM482 197h2v1h-2zM837 197h2v1h-2zM326 198h1v1h-1zM484 198h2v1h-2zM835 198h2v1h-2zM325 199h1v1h-1zM486 199h2v1h-2zM832 199h3v1h-3zM324 200h1v1h-1zM488 200h2v1h-2zM830 200h2v1h-2zM323 201h1v1h-1zM490 201h1v1h-1zM828 201h2v1h-2zM323 202h1v1h-1zM491 202h2v1h-2zM826 202h2v1h-2zM322 203h1v1h-1zM493 203h1v1h-1zM825 203h1v1h-1zM321 204h1v1h-1zM494 204h1v1h-1zM823 204h2v1h-2zM320 205h1v1h-1zM495 205h1v1h-1zM821 205h2v1h-2zM319 206h1v1h-1zM496 206h1v1h-1zM819 206h2v1h-2zM319 207h1v1h-1zM497 207h1v1h-1zM818 207h1v1h-1zM318 208h1v1h-1zM498 208h1v1h-1zM816 208h2v1h-2zM317 209h1v1h-1zM499 209h1v1h-1zM813 209h3v1h-3zM317 210h1v1h-1zM500 210h2v1h-2zM809 210h4v1h-4zM316 211h1v1h-1zM502 211h1v1h-1zM805 211h4v1h-4zM315 212h1v1h-1zM503 212h1v1h-1zM801 212h4v1h-4zM315 213h1v1h-1zM504 213h1v1h-1zM796 213h5v1h-5zM314 214h1v1h-1zM505 214h1v1h-1zM791 214h5v1h-5zM313 215h1v1h-1zM506 215h2v1h-2zM784 215h7v1h-7zM313 216h1v1h-1zM508 216h1v1h-1zM781 216h3v1h-3zM312 217h1v1h-1zM509 217h2v1h-2zM779 217h2v1h-2zM312 218h1v1h-1zM511 218h1v1h-1zM778 218h1v1h-1zM311 219h1v1h-1zM512 219h2v1h-2zM776 219h2v1h-2zM310 220h1v1h-1zM514 220h1v1h-1zM774 220h2v1h-2zM310 221h1v1h-1zM515 221h1v1h-1zM773 221h1v1h-1zM309 222h1v1h-1zM516 222h2v1h-2zM772 222h1v1h-1zM308 223h1v1h-1zM518 223h1v1h-1zM771 223h1v1h-1zM308 224h1v1h-1zM519 224h2v1h-2zM769 224h2v1h-2zM307 225h1v1h-1zM521 225h2v1h-2zM768 225h1v1h-1zM307 226h1v1h-1zM523 226h1v1h-1zM767 226h1v1h-1zM306 227h1v1h-1zM524 227h2v1h-2zM766 227h1v1h-1zM305 228h1v1h-1zM526 228h2v1h-2zM765 228h1v1h-1zM305 229h1v1h-1zM528 229h4v1h-4zM763 229h2v1h-2zM304 230h1v1h-1zM532 230h6v1h-6zM762 230h1v1h-1zM303 231h1v1h-1zM538 231h2v1h-2zM761 231h1v1h-1zM303 232h1v1h-1zM540 232h2v1h-2zM760 232h1v1h-1zM302 233h1v1h-1zM542 233h1v1h-1zM759 233h1v1h-1zM302 234h1v1h-1zM543 234h2v1h-2zM758 234h1v1h-1zM301 235h1v1h-1zM545 235h2v1h-2zM757 235h1v1h-1zM300 236h1v1h-1zM547 236h2v1h-2zM756 236h1v1h-1zM300 237h1v1h-1zM548 237h2v1h-2zM755 237h1v1h-1zM299 238h1v1h-1zM550 238h1v1h-1zM754 238h1v1h-1zM298 239h1v1h-1zM551 239h1v1h-1zM753 239h1v1h-1zM298 240h1v1h-1zM552 240h1v1h-1zM752 240h1v1h-1zM297 241h1v1h-1zM553 241h1v1h-1zM751 241h1v1h-1zM296 242h1v1h-1zM554 242h1v1h-1zM750 242h1v1h-1zM296 243h1v1h-1zM555 243h2v1h-2zM750 243h1v1h-1zM295 244h1v1h-1zM557 244h1v1h-1zM748 244h2v1h-2zM294 245h1v1h-1zM558 245h1v1h-1zM748 245h1v1h-1zM294 246h1v1h-1zM559 246h1v1h-1zM747 246h1v1h-1zM293 247h2v1h-2zM560 247h1v1h-1zM746 247h1v1h-1zM293 248h1v1h-1zM561 248h1v1h-1zM745 248h1v1h-1zM292 249h1v1h-1zM562 249h1v1h-1zM744 249h1v1h-1zM291 250h1v1h-1zM563 250h1v1h-1zM743 250h1v1h-1zM291 251h1v1h-1zM564 251h1v1h-1zM742 251h1v1h-1zM290 252h1v1h-1zM565 252h1v1h-1zM741 252h1v1h-1zM290 253h1v1h-1zM566 253h1v1h-1zM740 253h1v1h-1zM289 254h1v1h-1zM567 254h1v1h-1zM739 254h1v1h-1zM289 255h1v1h-1zM568 255h1v1h-1zM738 255h1v1h-1zM288 256h1v1h-1zM569 256h1v1h-1zM737 256h1v1h-1zM287 257h1v1h-1zM570 257h3v1h-3zM736 257h1v1h-1zM287 258h1v1h-1zM573 258h2v1h-2zM735 258h1v1h-1zM286 259h1v1h-1zM575 259h2v1h-2zM734 259h1v1h-1zM286 260h1v1h-1zM577 260h2v1h-2zM733 260h1v1h-1zM286 261h1v1h-1zM579 261h3v1h-3zM733 261h1v1h-1zM285 262h1v1h-1zM582 262h3v1h-3zM732 262h1v1h-1zM285 263h1v1h-1zM585 263h3v1h-3zM731 263h1v1h-1zM284 264h1v1h-1zM588 264h2v1h-2zM730 264h1v1h-1zM284 265h1v1h-1zM590 265h3v1h-3zM729 265h1v1h-1zM283 266h1v1h-1zM593 266h3v1h-3zM728 266h1v1h-1zM283 267h1v1h-1zM596 267h2v1h-2zM727 267h1v1h-1zM283 268h1v1h-1zM598 268h2v1h-2zM727 268h1v1h-1zM282 269h1v1h-1zM600 269h2v1h-2zM726 269h1v1h-1zM282 270h1v1h-1zM602 270h2v1h-2zM725 270h1v1h-1zM8 271h1v1h-1zM281 271h1v1h-1zM604 271h2v1h-2zM724 271h1v1h-1zM9 272h2v1h-2zM280 272h1v1h-1zM606 272h2v1h-2zM723 272h1v1h-1zM11 273h2v1h-2zM280 273h1v1h-1zM608 273h2v1h-2zM722 273h2v1h-2zM13 274h2v1h-2zM279 274h1v1h-1zM610 274h2v1h-2zM721 274h1v1h-1zM15 275h3v1h-3zM279 275h1v1h-1zM612 275h3v1h-3zM720 275h1v1h-1zM18 276h2v1h-2zM278 276h1v1h-1zM615 276h3v1h-3zM719 276h1v1h-1zM20 277h2v1h-2zM278 277h1v1h-1zM618 277h3v1h-3zM718 277h1v1h-1zM22 278h2v1h-2zM277 278h1v1h-1zM621 278h3v1h-3zM717 278h1v1h-1zM24 279h2v1h-2zM277 279h1v1h-1zM624 279h3v1h-3zM716 279h1v1h-1zM26 280h3v1h-3zM276 280h1v1h-1zM627 280h4v1h-4zM715 280h1v1h-1zM29 281h2v1h-2zM276 281h1v1h-1zM631 281h5v1h-5zM714 281h1v1h-1zM31 282h1v1h-1zM275 282h1v1h-1zM636 282h4v1h-4zM713 282h1v1h-1zM32 283h1v1h-1zM275 283h1v1h-1zM640 283h5v1h-5zM712 283h1v1h-1zM33 284h2v1h-2zM274 284h1v1h-1zM645 284h4v1h-4zM711 284h1v1h-1zM35 285h1v1h-1zM274 285h1v1h-1zM649 285h4v1h-4zM709 285h2v1h-2zM36 286h1v1h-1zM273 286h1v1h-1zM653 286h4v1h-4zM707 286h2v1h-2zM37 287h1v1h-1zM272 287h1v1h-1zM657 287h5v1h-5zM705 287h2v1h-2zM38 288h1v1h-1zM272 288h1v1h-1zM662 288h6v1h-6zM702 288h3v1h-3zM39 289h2v1h-2zM271 289h2v1h-2zM668 289h34v1h-34zM41 290h1v1h-1zM271 290h1v1h-1zM42 291h1v1h-1zM270 291h1v1h-1zM43 292h1v1h-1zM269 292h1v1h-1zM44 293h1v1h-1zM268 293h1v1h-1zM45 294h1v1h-1zM268 294h1v1h-1zM46 295h1v1h-1zM267 295h1v1h-1zM47 296h1v1h-1zM266 296h1v1h-1zM48 297h1v1h-1zM265 297h1v1h-1zM49 298h1v1h-1zM265 298h1v1h-1zM49 299h1v1h-1zM264 299h1v1h-1zM50 300h1v1h-1zM263 300h1v1h-1zM51 301h1v1h-1zM263 301h1v1h-1zM52 302h1v1h-1zM262 302h1v1h-1zM53 303h1v1h-1zM261 303h1v1h-1zM54 304h1v1h-1zM260 304h2v1h-2zM55 305h1v1h-1zM259 305h1v1h-1zM56 306h1v1h-1zM258 306h1v1h-1zM57 307h1v1h-1zM256 307h2v1h-2zM58 308h1v1h-1zM255 308h1v1h-1zM59 309h1v1h-1zM254 309h1v1h-1zM60 310h1v1h-1zM253 310h1v1h-1zM61 311h1v1h-1zM252 311h1v1h-1zM62 312h1v1h-1zM250 312h2v1h-2zM63 313h1v1h-1zM249 313h1v1h-1zM64 314h1v1h-1zM248 314h1v1h-1zM65 315h1v1h-1zM247 315h1v1h-1zM66 316h1v1h-1zM246 316h1v1h-1zM67 317h1v1h-1zM244 317h2v1h-2zM68 318h1v1h-1zM243 318h1v1h-1zM69 319h1v1h-1zM242 319h1v1h-1zM70 320h1v1h-1zM240 320h2v1h-2zM71 321h2v1h-2zM239 321h1v1h-1zM73 322h1v1h-1zM238 322h1v1h-1zM74 323h1v1h-1zM236 323h2v1h-2zM75 324h1v1h-1zM235 324h1v1h-1zM76 325h1v1h-1zM234 325h1v1h-1zM77 326h1v1h-1zM232 326h2v1h-2zM78 327h2v1h-2zM231 327h1v1h-1zM80 328h1v1h-1zM230 328h1v1h-1zM81 329h1v1h-1zM228 329h2v1h-2zM82 330h1v1h-1zM227 330h2v1h-2zM83 331h2v1h-2zM226 331h1v1h-1zM85 332h1v1h-1zM225 332h1v1h-1zM86 333h1v1h-1zM224 333h1v1h-1zM87 334h2v1h-2zM223 334h1v1h-1zM89 335h1v1h-1zM222 335h1v1h-1zM90 336h1v1h-1zM221 336h1v1h-1zM91 337h2v1h-2zM220 337h1v1h-1zM93 338h1v1h-1zM219 338h1v1h-1zM94 339h1v1h-1zM218 339h1v1h-1zM95 340h2v1h-2zM217 340h1v1h-1zM97 341h1v1h-1zM215 341h2v1h-2zM98 342h1v1h-1zM214 342h1v1h-1zM99 343h1v1h-1zM213 343h1v1h-1zM100 344h2v1h-2zM212 344h1v1h-1zM102 345h1v1h-1zM211 345h1v1h-1zM103 346h1v1h-1zM210 346h1v1h-1zM104 347h1v1h-1zM209 347h1v1h-1zM105 348h1v1h-1zM208 348h1v1h-1zM106 349h1v1h-1zM207 349h1v1h-1zM107 350h1v1h-1zM206 350h1v1h-1zM108 351h1v1h-1zM205 351h1v1h-1zM109 352h1v1h-1zM203 352h2v1h-2zM109 353h1v1h-1zM202 353h1v1h-1zM110 354h1v1h-1zM200 354h2v1h-2zM111 355h1v1h-1zM199 355h2v1h-2zM112 356h1v1h-1zM197 356h2v1h-2zM113 357h1v1h-1zM196 357h1v1h-1zM114 358h1v1h-1zM195 358h1v1h-1zM115 359h1v1h-1zM194 359h1v1h-1zM116 360h1v1h-1zM192 360h2v1h-2zM117 361h1v1h-1zM191 361h2v1h-2zM118 362h1v1h-1zM189 362h2v1h-2zM119 363h1v1h-1zM188 363h1v1h-1zM120 364h1v1h-1zM186 364h2v1h-2zM121 365h1v1h-1zM184 365h2v1h-2zM121 366h1v1h-1zM183 366h2v1h-2zM122 367h1v1h-1zM181 367h2v1h-2zM123 368h1v1h-1zM180 368h1v1h-1zM124 369h1v1h-1zM178 369h2v1h-2zM125 370h1v1h-1zM176 370h2v1h-2zM126 371h1v1h-1zM174 371h3v1h-3zM127 372h1v1h-1zM171 372h3v1h-3zM128 373h2v1h-2zM169 373h2v1h-2zM130 374h2v1h-2zM166 374h3v1h-3zM132 375h2v1h-2zM164 375h2v1h-2zM134 376h2v1h-2zM161 376h3v1h-3zM136 377h3v1h-3zM158 377h3v1h-3zM139 378h9v1h-9zM154 378h4v1h-4zM148 379h6v1h-6z" fill="#ff0000"/>
<rect x="8" y="129" width="1187" height="2" fill="#ff0000"/>
<rect x="8" y="210" width="1187" height="2" fill="#00c800"/>
<rect x="8" y="291" width="1187" height="2" fill="#4659e6"/>
<rect x="8" y="361" width="1187" height="2" fill="#4659e6"/>
<rect x="8" y="454" width="1187" height="2" fill="#4659e6"/>
</g>
<g clip-path="url(#cd)">
<path d="M8 525h1v28h-1zM16 525h1v35h-1zM24 525h1v35h-1zM32 525h1v35h-1zM40 525h1v36h-1zM48 525h1v34h-1zM56 525h1v34h-1zM64 525h1v33h-1zM72 525h1v30h-1zM80 525h1v27h-1zM88 525h1v26h-1zM96 525h1v26h-1zM104 525h1v26h-1zM112 525h1v30h-1zM120 525h1v30h-1zM128 525h1v30h-1zM136 525h1v29h-1zM144 525h1v27h-1zM152 525h1v24h-1zM160 525h1v18h-1zM168 525h1v9h-1zM176 525h1v2h-1zM184 522h1v4h-1zM192 518h1v8h-1zM200 515h1v11h-1zM208 511h1v15h-1zM216 506h1v20h-1zM224 500h1v26h-1zM232 496h1v30h-1zM240 494h1v32h-1zM248 494h1v32h-1zM256 494h1v32h-1zM264 494h1v32h-1zM272 489h1v37h-1zM280 486h1v40h-1zM288 481h1v45h-1zM296 478h1v48h-1zM304 478h1v48h-1zM312 479h1v47h-1zM320 478h1v48h-1zM328 477h1v49h-1zM336 479h1v47h-1zM344 479h1v47h-1zM352 482h1v44h-1zM360 486h1v40h-1zM368 497h1v29h-1zM376 505h1v21h-1zM384 510h1v16h-1zM392 514h1v12h-1zM400 517h1v9h-1zM408 519h1v7h-1zM416 525h1v1h-1zM424 525h1v1h-1zM432 525h1v3h-1zM440 525h1v4h-1zM448 525h1v2h-1zM456 525h1v2h-1zM464 525h1v1h-1zM472 525h1v1h-1zM480 525h1v1h-1zM488 525h1v1h-1zM496 525h1v1h-1zM504 525h1v3h-1zM512 525h1v5h-1zM520 525h1v7h-1zM528 525h1v8h-1zM536 525h1v11h-1zM544 525h1v16h-1zM552 525h1v21h-1zM560 525h1v27h-1zM568 525h1v33h-1zM576 525h1v32h-1zM584 525h1v31h-1zM592 525h1v29h-1zM600 525h1v30h-1zM608 525h1v27h-1zM616 525h1v22h-1zM624 525h1v16h-1zM632 525h1v12h-1zM640 525h1v8h-1zM648 525h1v5h-1zM656 525h1v3h-1zM664 525h1v3h-1zM672 525h1v1h-1zM680 525h1v1h-1zM688 525h1v1h-1zM696 524h1v2h-1zM704 525h1v1h-1zM712 520h1v6h-1zM720 514h1v12h-1zM728 510h1v16h-1zM736 507h1v19h-1zM744 503h1v23h-1zM752 500h1v26h-1zM760 498h1v28h-1zM768 500h1v26h-1zM776 502h1v24h-1zM784 504h1v22h-1zM792 506h1v20h-1zM800 508h1v18h-1zM808 515h1v11h-1zM816 515h1v11h-1zM824 512h1v14h-1zM832 511h1v15h-1zM840 511h1v15h-1zM848 512h1v14h-1zM856 513h1v13h-1zM864 515h1v11h-1zM872 518h1v8h-1zM880 520h1v6h-1zM888 521h1v5h-1zM896 519h1v7h-1zM904 516h1v10h-1zM912 513h1v13h-1zM920 509h1v17h-1zM928 505h1v21h-1zM936 503h1v23h-1zM944 501h1v25h-1zM952 498h1v28h-1zM960 500h1v26h-1zM968 500h1v26h-1zM976 499h1v27h-1zM984 498h1v28h-1zM992 498h1v28h-1zM1000 497h1v29h-1zM1008 495h1v31h-1zM1016 493h1v33h-1zM1024 493h1v33h-1zM1032 495h1v31h-1zM1040 496h1v30h-1zM1048 499h1v27h-1zM1056 505h1v21h-1zM1064 514h1v12h-1zM1072 524h1v2h-1zM1080 525h1v6h-1zM1088 525h1v13h-1zM1096 525h1v16h-1zM1104 525h1v21h-1zM1112 525h1v27h-1zM1120 525h1v33h-1zM1128 525h1v38h-1zM1136 525h1v37h-1zM1144 525h1v35h-1zM1152 525h1v31h-1zM1160 525h1v24h-1zM1168 525h1v19h-1zM1176 525h1v13h-1z" fill="#c0c0c0"/>
<path d="M342 478h5v1h-5zM350 478h5v1h-5zM334 479h5v1h-5zM358 479h5v1h-5zM329 480h2v1h-2zM366 480h1v1h-1zM326 481h3v1h-3zM367 481h3v1h-3zM321 482h2v1h-2zM370 482h1v1h-1zM318 483h3v1h-3zM374 483h1v1h-1zM313 484h2v1h-2zM375 484h3v1h-3zM310 485h3v1h-3zM378 485h1v1h-1zM305 486h2v1h-2zM382 486h1v1h-1zM302 487h3v1h-3zM383 487h2v1h-2zM296 488h3v1h-3zM385 488h2v1h-2zM294 489h2v1h-2zM290 490h1v1h-1zM390 490h2v1h-2zM287 491h3v1h-3zM392 491h2v1h-2zM286 492h1v1h-1zM394 492h1v1h-1zM281 493h2v1h-2zM279 494h2v1h-2zM398 494h1v1h-1zM278 495h1v1h-1zM399 495h2v1h-2zM1030 495h5v1h-5zM1038 495h5v1h-5zM1046 495h5v1h-5zM273 496h2v1h-2zM401 496h2v1h-2zM1018 496h1v1h-1zM1022 496h5v1h-5zM1054 496h5v1h-5zM271 497h2v1h-2zM1006 497h5v1h-5zM1014 497h4v1h-4zM1062 497h1v1h-1zM270 498h1v1h-1zM998 498h5v1h-5zM1063 498h4v1h-4zM265 499h2v1h-2zM406 499h2v1h-2zM990 499h5v1h-5zM262 500h3v1h-3zM408 500h1v1h-1zM982 500h5v1h-5zM1070 500h2v1h-2zM258 501h1v1h-1zM409 501h2v1h-2zM978 501h1v1h-1zM1072 501h2v1h-2zM255 502h3v1h-3zM790 502h5v1h-5zM798 502h5v1h-5zM974 502h4v1h-4zM1074 502h1v1h-1zM254 503h1v1h-1zM782 503h5v1h-5zM806 503h5v1h-5zM969 503h2v1h-2zM249 504h2v1h-2zM414 504h2v1h-2zM778 504h1v1h-1zM814 504h5v1h-5zM966 504h3v1h-3zM1078 504h2v1h-2zM247 505h2v1h-2zM416 505h1v1h-1zM774 505h4v1h-4zM822 505h5v1h-5zM962 505h1v1h-1zM1080 505h1v1h-1zM246 506h1v1h-1zM417 506h2v1h-2zM830 506h1v1h-1zM959 506h3v1h-3zM1081 506h2v1h-2zM769 507h2v1h-2zM831 507h4v1h-4zM958 507h1v1h-1zM241 508h2v1h-2zM766 508h3v1h-3zM838 508h5v1h-5zM953 508h2v1h-2zM239 509h2v1h-2zM422 509h2v1h-2zM846 509h5v1h-5zM950 509h3v1h-3zM1086 509h2v1h-2zM238 510h1v1h-1zM424 510h1v1h-1zM761 510h2v1h-2zM854 510h5v1h-5zM945 510h2v1h-2zM1088 510h1v1h-1zM425 511h2v1h-2zM758 511h3v1h-3zM862 511h4v1h-4zM942 511h3v1h-3zM1089 511h2v1h-2zM866 512h1v1h-1zM937 512h2v1h-2zM233 513h2v1h-2zM753 513h2v1h-2zM870 513h5v1h-5zM878 513h5v1h-5zM934 513h3v1h-3zM232 514h1v1h-1zM430 514h2v1h-2zM750 514h3v1h-3zM886 514h5v1h-5zM926 514h5v1h-5zM1094 514h1v1h-1zM230 515h2v1h-2zM432 515h2v1h-2zM746 515h1v1h-1zM894 515h5v1h-5zM902 515h5v1h-5zM910 515h5v1h-5zM918 515h5v1h-5zM1095 515h2v1h-2zM434 516h1v1h-1zM743 516h3v1h-3zM1097 516h1v1h-1zM438 517h1v1h-1zM742 517h1v1h-1zM1098 517h1v1h-1zM225 518h2v1h-2zM439 518h3v1h-3zM738 518h1v1h-1zM223 519h2v1h-2zM442 519h1v1h-1zM734 519h4v1h-4zM222 520h1v1h-1zM446 520h1v1h-1zM730 520h1v1h-1zM1102 520h1v1h-1zM447 521h4v1h-4zM727 521h3v1h-3zM1103 521h1v1h-1zM218 522h1v1h-1zM454 522h1v1h-1zM726 522h1v1h-1zM1104 522h2v1h-2zM217 523h1v1h-1zM455 523h4v1h-4zM721 523h2v1h-2zM1106 523h1v1h-1zM216 524h1v1h-1zM462 524h1v1h-1zM718 524h3v1h-3zM214 525h2v1h-2zM463 525h4v1h-4zM711 525h4v1h-4zM470 526h5v1h-5zM478 526h5v1h-5zM706 526h1v1h-1zM710 526h1v1h-1zM1110 526h1v1h-1zM486 527h5v1h-5zM494 527h5v1h-5zM502 527h5v1h-5zM510 527h5v1h-5zM518 527h5v1h-5zM702 527h4v1h-4zM1111 527h1v1h-1zM210 528h1v1h-1zM526 528h5v1h-5zM694 528h5v1h-5zM1112 528h1v1h-1zM209 529h1v1h-1zM534 529h5v1h-5zM690 529h1v1h-1zM1113 529h2v1h-2zM208 530h1v1h-1zM542 530h1v1h-1zM687 530h3v1h-3zM206 531h2v1h-2zM543 531h4v1h-4zM686 531h1v1h-1zM550 532h1v1h-1zM682 532h1v1h-1zM202 533h1v1h-1zM551 533h3v1h-3zM679 533h3v1h-3zM1118 533h1v1h-1zM201 534h1v1h-1zM554 534h1v1h-1zM678 534h1v1h-1zM1119 534h1v1h-1zM199 535h2v1h-2zM558 535h1v1h-1zM673 535h2v1h-2zM1120 535h2v1h-2zM198 536h1v1h-1zM559 536h3v1h-3zM671 536h2v1h-2zM1122 536h1v1h-1zM562 537h1v1h-1zM670 537h1v1h-1zM193 538h2v1h-2zM566 538h1v1h-1zM666 538h1v1h-1zM192 539h1v1h-1zM567 539h2v1h-2zM663 539h3v1h-3zM190 540h2v1h-2zM569 540h2v1h-2zM662 540h1v1h-1zM1126 540h2v1h-2zM658 541h1v1h-1zM1128 541h1v1h-1zM8 542h3v1h-3zM574 542h2v1h-2zM655 542h3v1h-3zM1129 542h2v1h-2zM14 543h1v1h-1zM185 543h2v1h-2zM576 543h2v1h-2zM654 543h1v1h-1zM15 544h2v1h-2zM183 544h2v1h-2zM578 544h1v1h-1zM650 544h1v1h-1zM17 545h2v1h-2zM182 545h1v1h-1zM582 545h2v1h-2zM647 545h3v1h-3zM1134 545h2v1h-2zM178 546h1v1h-1zM584 546h3v1h-3zM646 546h1v1h-1zM1136 546h2v1h-2zM22 547h2v1h-2zM176 547h2v1h-2zM590 547h1v1h-1zM641 547h2v1h-2zM1138 547h1v1h-1zM24 548h3v1h-3zM174 548h2v1h-2zM591 548h4v1h-4zM638 548h3v1h-3zM170 549h1v1h-1zM598 549h1v1h-1zM1142 549h2v1h-2zM30 550h1v1h-1zM166 550h4v1h-4zM599 550h4v1h-4zM633 550h2v1h-2zM1144 550h2v1h-2zM31 551h3v1h-3zM160 551h3v1h-3zM606 551h2v1h-2zM630 551h3v1h-3zM1146 551h1v1h-1zM34 552h1v1h-1zM153 552h2v1h-2zM158 552h2v1h-2zM608 552h3v1h-3zM614 552h3v1h-3zM622 552h5v1h-5zM1150 552h1v1h-1zM142 553h5v1h-5zM150 553h3v1h-3zM617 553h2v1h-2zM1151 553h4v1h-4zM38 554h4v1h-4zM118 554h5v1h-5zM126 554h5v1h-5zM134 554h5v1h-5zM1158 554h5v1h-5zM1166 554h5v1h-5zM1174 554h4v1h-4zM42 555h1v1h-1zM102 555h5v1h-5zM110 555h5v1h-5zM46 556h5v1h-5zM90 556h1v1h-1zM94 556h5v1h-5zM54 557h5v1h-5zM81 557h2v1h-2zM86 557h4v1h-4zM62 558h5v1h-5zM70 558h5v1h-5zM78 558h3v1h-3z" fill="#ff0000"/>
</g>
<g clip-path="url(#cr)">
<line x1="9" y1="601.5" x2="1195" y2="601.5" stroke="#c0c0c0" stroke-width="1" stroke-dasharray="3 3"/>
<line x1="9" y1="641.5" x2="1195" y2="641.5" stroke="#c0c0c0" stroke-width="1" stroke-dasharray="3 3"/>
<path d="M287 598h10v1h-10zM284 599h3v1h-3zM297 599h1v1h-1zM281 600h3v1h-3zM298 600h1v1h-1zM276 601h5v1h-5zM299 601h1v1h-1zM272 602h4v1h-4zM300 602h1v1h-1zM323 602h7v1h-7zM271 603h1v1h-1zM301 603h1v1h-1zM319 603h4v1h-4zM330 603h1v1h-1zM223 604h3v1h-3zM270 604h1v1h-1zM302 604h1v1h-1zM316 604h3v1h-3zM331 604h2v1h-2zM951 604h2v1h-2zM221 605h2v1h-2zM226 605h2v1h-2zM269 605h1v1h-1zM303 605h1v1h-1zM313 605h3v1h-3zM333 605h2v1h-2zM949 605h2v1h-2zM953 605h1v1h-1zM1007 605h8v1h-8zM218 606h3v1h-3zM228 606h3v1h-3zM267 606h2v1h-2zM304 606h9v1h-9zM335 606h1v1h-1zM337 606h8v1h-8zM756 606h5v1h-5zM947 606h2v1h-2zM954 606h1v1h-1zM1005 606h2v1h-2zM1015 606h5v1h-5zM215 607h3v1h-3zM231 607h11v1h-11zM266 607h1v1h-1zM304 607h1v1h-1zM336 607h1v1h-1zM345 607h2v1h-2zM743 607h13v1h-13zM761 607h1v1h-1zM926 607h8v1h-8zM945 607h2v1h-2zM954 607h1v1h-1zM1003 607h2v1h-2zM1020 607h4v1h-4zM213 608h2v1h-2zM242 608h3v1h-3zM265 608h1v1h-1zM347 608h1v1h-1zM720 608h2v1h-2zM740 608h3v1h-3zM762 608h1v1h-1zM921 608h5v1h-5zM934 608h11v1h-11zM955 608h1v1h-1zM1001 608h2v1h-2zM1024 608h2v1h-2zM210 609h3v1h-3zM245 609h3v1h-3zM262 609h3v1h-3zM348 609h2v1h-2zM718 609h2v1h-2zM722 609h4v1h-4zM737 609h3v1h-3zM762 609h1v1h-1zM919 609h2v1h-2zM956 609h1v1h-1zM998 609h3v1h-3zM1026 609h1v1h-1zM168 610h2v1h-2zM183 610h2v1h-2zM208 610h2v1h-2zM248 610h8v1h-8zM257 610h5v1h-5zM350 610h1v1h-1zM716 610h2v1h-2zM726 610h11v1h-11zM763 610h1v1h-1zM904 610h1v1h-1zM917 610h2v1h-2zM956 610h1v1h-1zM975 610h11v1h-11zM996 610h2v1h-2zM1027 610h1v1h-1zM167 611h1v1h-1zM170 611h5v1h-5zM178 611h5v1h-5zM185 611h2v1h-2zM206 611h2v1h-2zM256 611h1v1h-1zM351 611h2v1h-2zM715 611h1v1h-1zM764 611h1v1h-1zM902 611h2v1h-2zM905 611h3v1h-3zM915 611h2v1h-2zM957 611h1v1h-1zM968 611h7v1h-7zM986 611h4v1h-4zM994 611h2v1h-2zM1028 611h1v1h-1zM1039 611h2v1h-2zM166 612h1v1h-1zM175 612h3v1h-3zM187 612h3v1h-3zM203 612h3v1h-3zM353 612h2v1h-2zM713 612h2v1h-2zM765 612h1v1h-1zM901 612h1v1h-1zM908 612h3v1h-3zM913 612h2v1h-2zM958 612h1v1h-1zM966 612h2v1h-2zM990 612h4v1h-4zM1029 612h2v1h-2zM1036 612h3v1h-3zM1041 612h2v1h-2zM165 613h1v1h-1zM190 613h2v1h-2zM201 613h2v1h-2zM355 613h2v1h-2zM712 613h1v1h-1zM765 613h1v1h-1zM899 613h2v1h-2zM911 613h2v1h-2zM958 613h1v1h-1zM965 613h1v1h-1zM1031 613h1v1h-1zM1033 613h3v1h-3zM1043 613h2v1h-2zM164 614h1v1h-1zM192 614h9v1h-9zM357 614h2v1h-2zM711 614h1v1h-1zM766 614h1v1h-1zM823 614h4v1h-4zM897 614h2v1h-2zM959 614h1v1h-1zM963 614h2v1h-2zM1032 614h1v1h-1zM1045 614h1v1h-1zM163 615h1v1h-1zM359 615h2v1h-2zM710 615h1v1h-1zM767 615h1v1h-1zM782 615h4v1h-4zM821 615h2v1h-2zM827 615h5v1h-5zM896 615h1v1h-1zM960 615h3v1h-3zM1046 615h2v1h-2zM162 616h1v1h-1zM361 616h1v1h-1zM709 616h1v1h-1zM767 616h1v1h-1zM777 616h5v1h-5zM786 616h2v1h-2zM819 616h2v1h-2zM832 616h6v1h-6zM895 616h1v1h-1zM960 616h1v1h-1zM1048 616h1v1h-1zM162 617h1v1h-1zM361 617h1v1h-1zM623 617h14v1h-14zM672 617h4v1h-4zM696 617h2v1h-2zM708 617h1v1h-1zM768 617h9v1h-9zM788 617h2v1h-2zM816 617h3v1h-3zM838 617h7v1h-7zM894 617h1v1h-1zM1049 617h1v1h-1zM1174 617h3v1h-3zM161 618h1v1h-1zM362 618h1v1h-1zM620 618h3v1h-3zM637 618h15v1h-15zM670 618h2v1h-2zM676 618h5v1h-5zM695 618h1v1h-1zM698 618h1v1h-1zM707 618h1v1h-1zM790 618h2v1h-2zM816 618h1v1h-1zM845 618h7v1h-7zM892 618h2v1h-2zM1050 618h1v1h-1zM1160 618h4v1h-4zM1171 618h3v1h-3zM159 619h2v1h-2zM362 619h1v1h-1zM463 619h5v1h-5zM617 619h3v1h-3zM652 619h5v1h-5zM669 619h1v1h-1zM681 619h2v1h-2zM693 619h2v1h-2zM699 619h2v1h-2zM706 619h1v1h-1zM792 619h9v1h-9zM815 619h1v1h-1zM852 619h6v1h-6zM891 619h1v1h-1zM1051 619h1v1h-1zM1158 619h2v1h-2zM1164 619h7v1h-7zM157 620h2v1h-2zM363 620h1v1h-1zM447 620h3v1h-3zM461 620h2v1h-2zM468 620h4v1h-4zM616 620h1v1h-1zM657 620h3v1h-3zM668 620h1v1h-1zM683 620h1v1h-1zM692 620h1v1h-1zM701 620h2v1h-2zM705 620h1v1h-1zM801 620h1v1h-1zM814 620h1v1h-1zM858 620h2v1h-2zM890 620h1v1h-1zM1052 620h1v1h-1zM1156 620h2v1h-2zM156 621h1v1h-1zM364 621h1v1h-1zM444 621h3v1h-3zM450 621h3v1h-3zM459 621h2v1h-2zM472 621h10v1h-10zM615 621h1v1h-1zM660 621h2v1h-2zM666 621h2v1h-2zM684 621h2v1h-2zM691 621h1v1h-1zM703 621h2v1h-2zM801 621h1v1h-1zM814 621h1v1h-1zM860 621h3v1h-3zM889 621h1v1h-1zM1053 621h1v1h-1zM1155 621h1v1h-1zM154 622h2v1h-2zM364 622h1v1h-1zM442 622h2v1h-2zM453 622h2v1h-2zM457 622h2v1h-2zM482 622h3v1h-3zM495 622h2v1h-2zM614 622h1v1h-1zM662 622h2v1h-2zM665 622h1v1h-1zM686 622h1v1h-1zM690 622h1v1h-1zM704 622h1v1h-1zM802 622h1v1h-1zM813 622h1v1h-1zM863 622h2v1h-2zM883 622h6v1h-6zM1054 622h1v1h-1zM1153 622h2v1h-2zM152 623h2v1h-2zM365 623h1v1h-1zM404 623h5v1h-5zM439 623h3v1h-3zM455 623h2v1h-2zM485 623h2v1h-2zM490 623h5v1h-5zM497 623h2v1h-2zM613 623h1v1h-1zM664 623h1v1h-1zM687 623h3v1h-3zM803 623h1v1h-1zM813 623h1v1h-1zM865 623h4v1h-4zM878 623h5v1h-5zM1055 623h1v1h-1zM1151 623h2v1h-2zM148 624h4v1h-4zM365 624h1v1h-1zM384 624h7v1h-7zM394 624h10v1h-10zM409 624h1v1h-1zM436 624h3v1h-3zM487 624h3v1h-3zM499 624h2v1h-2zM612 624h1v1h-1zM803 624h1v1h-1zM812 624h1v1h-1zM869 624h3v1h-3zM873 624h5v1h-5zM1055 624h1v1h-1zM1150 624h1v1h-1zM71 625h11v1h-11zM144 625h4v1h-4zM366 625h1v1h-1zM382 625h2v1h-2zM391 625h3v1h-3zM410 625h1v1h-1zM424 625h6v1h-6zM433 625h3v1h-3zM501 625h2v1h-2zM611 625h1v1h-1zM804 625h1v1h-1zM811 625h1v1h-1zM872 625h1v1h-1zM1056 625h1v1h-1zM1149 625h1v1h-1zM69 626h2v1h-2zM82 626h3v1h-3zM142 626h2v1h-2zM366 626h1v1h-1zM380 626h2v1h-2zM411 626h1v1h-1zM423 626h1v1h-1zM430 626h3v1h-3zM503 626h3v1h-3zM610 626h1v1h-1zM805 626h1v1h-1zM811 626h1v1h-1zM1057 626h1v1h-1zM1147 626h2v1h-2zM67 627h2v1h-2zM85 627h2v1h-2zM139 627h3v1h-3zM367 627h1v1h-1zM379 627h1v1h-1zM411 627h1v1h-1zM422 627h1v1h-1zM506 627h5v1h-5zM591 627h2v1h-2zM609 627h1v1h-1zM805 627h1v1h-1zM810 627h1v1h-1zM1058 627h1v1h-1zM1146 627h1v1h-1zM48 628h1v1h-1zM65 628h2v1h-2zM87 628h2v1h-2zM137 628h2v1h-2zM368 628h1v1h-1zM377 628h2v1h-2zM412 628h1v1h-1zM421 628h1v1h-1zM511 628h8v1h-8zM589 628h2v1h-2zM593 628h2v1h-2zM607 628h2v1h-2zM806 628h1v1h-1zM810 628h1v1h-1zM1059 628h1v1h-1zM1145 628h1v1h-1zM8 629h1v1h-1zM46 629h2v1h-2zM49 629h5v1h-5zM59 629h6v1h-6zM89 629h5v1h-5zM100 629h5v1h-5zM129 629h8v1h-8zM368 629h9v1h-9zM413 629h1v1h-1zM420 629h1v1h-1zM519 629h11v1h-11zM587 629h2v1h-2zM595 629h2v1h-2zM605 629h2v1h-2zM807 629h1v1h-1zM809 629h1v1h-1zM1060 629h1v1h-1zM1141 629h4v1h-4zM9 630h1v1h-1zM24 630h10v1h-10zM44 630h2v1h-2zM54 630h5v1h-5zM94 630h6v1h-6zM105 630h1v1h-1zM122 630h7v1h-7zM414 630h1v1h-1zM419 630h1v1h-1zM530 630h3v1h-3zM576 630h5v1h-5zM585 630h2v1h-2zM597 630h2v1h-2zM602 630h3v1h-3zM808 630h1v1h-1zM1061 630h1v1h-1zM1137 630h4v1h-4zM10 631h1v1h-1zM23 631h1v1h-1zM34 631h5v1h-5zM41 631h3v1h-3zM106 631h1v1h-1zM119 631h3v1h-3zM415 631h1v1h-1zM418 631h1v1h-1zM533 631h2v1h-2zM576 631h1v1h-1zM581 631h4v1h-4zM599 631h3v1h-3zM808 631h1v1h-1zM1062 631h1v1h-1zM1096 631h2v1h-2zM1136 631h1v1h-1zM11 632h1v1h-1zM22 632h1v1h-1zM39 632h2v1h-2zM107 632h1v1h-1zM118 632h1v1h-1zM416 632h2v1h-2zM535 632h3v1h-3zM575 632h1v1h-1zM1063 632h1v1h-1zM1095 632h1v1h-1zM1098 632h2v1h-2zM1135 632h1v1h-1zM12 633h1v1h-1zM21 633h1v1h-1zM108 633h1v1h-1zM117 633h1v1h-1zM416 633h1v1h-1zM538 633h2v1h-2zM574 633h1v1h-1zM1064 633h1v1h-1zM1094 633h1v1h-1zM1100 633h3v1h-3zM1134 633h1v1h-1zM13 634h1v1h-1zM20 634h1v1h-1zM109 634h1v1h-1zM115 634h2v1h-2zM540 634h2v1h-2zM574 634h1v1h-1zM1065 634h2v1h-2zM1093 634h1v1h-1zM1103 634h2v1h-2zM1133 634h1v1h-1zM13 635h1v1h-1zM19 635h1v1h-1zM110 635h1v1h-1zM114 635h1v1h-1zM542 635h2v1h-2zM573 635h1v1h-1zM1067 635h2v1h-2zM1092 635h1v1h-1zM1105 635h2v1h-2zM1133 635h1v1h-1zM14 636h1v1h-1zM18 636h1v1h-1zM111 636h1v1h-1zM113 636h1v1h-1zM544 636h1v1h-1zM573 636h1v1h-1zM1069 636h2v1h-2zM1078 636h4v1h-4zM1091 636h1v1h-1zM1107 636h2v1h-2zM1132 636h1v1h-1zM15 637h1v1h-1zM17 637h1v1h-1zM112 637h1v1h-1zM545 637h2v1h-2zM572 637h1v1h-1zM1071 637h7v1h-7zM1082 637h2v1h-2zM1090 637h1v1h-1zM1109 637h2v1h-2zM1131 637h1v1h-1zM16 638h1v1h-1zM547 638h2v1h-2zM572 638h1v1h-1zM1084 638h3v1h-3zM1089 638h1v1h-1zM1111 638h2v1h-2zM1130 638h1v1h-1zM549 639h2v1h-2zM571 639h1v1h-1zM1087 639h2v1h-2zM1113 639h6v1h-6zM1130 639h1v1h-1zM551 640h2v1h-2zM571 640h1v1h-1zM1119 640h6v1h-6zM1129 640h1v1h-1zM553 641h4v1h-4zM570 641h1v1h-1zM1125 641h4v1h-4zM557 642h4v1h-4zM569 642h1v1h-1zM561 643h3v1h-3zM569 643h1v1h-1zM564 644h5v1h-5zM568 645h1v1h-1z" fill="#1e90ff"/>
</g>
<g font-family='"Liberation Sans", sans-serif' font-size="10px" fill="#000" stroke="#000" stroke-width="0.05">
<rect x="1196" y="36" width="2" height="1" fill="#000"/>
<text transform="translate(1200.5,40.6) scale(0.94,1)" fill="#000">111.040</text>
<rect x="1196" y="69" width="2" height="1" fill="#000"/>
<text transform="translate(1200.5,73.6) scale(0.94,1)" fill="#000">109.640</text>
<rect x="1196" y="102" width="2" height="1" fill="#000"/>
<text transform="translate(1200.5,106.6) scale(0.94,1)" fill="#000">108.200</text>
<rect x="1196" y="135" width="2" height="1" fill="#000"/>
<text transform="translate(1200.5,139.6) scale(0.94,1)" fill="#000">106.800</text>
<rect x="1196" y="168" width="2" height="1" fill="#000"/>
<text transform="translate(1200.5,172.6) scale(0.94,1)" fill="#000">105.360</text>
<rect x="1196" y="201" width="2" height="1" fill="#000"/>
<text transform="translate(1200.5,205.6) scale(0.94,1)" fill="#000">103.920</text>
<rect x="1196" y="234" width="2" height="1" fill="#000"/>
<text transform="translate(1200.5,238.6) scale(0.94,1)" fill="#000">102.520</text>
<rect x="1196" y="267" width="2" height="1" fill="#000"/>
<text transform="translate(1200.5,271.6) scale(0.94,1)" fill="#000">101.080</text>
<rect x="1196" y="300" width="2" height="1" fill="#000"/>
<text transform="translate(1200.5,304.6) scale(0.94,1)" fill="#000">99.680</text>
<rect x="1196" y="333" width="2" height="1" fill="#000"/>
<text transform="translate(1200.5,337.6) scale(0.94,1)" fill="#000">98.240</text>
<rect x="1196" y="366" width="2" height="1" fill="#000"/>
<text transform="translate(1200.5,370.6) scale(0.94,1)" fill="#000">96.800</text>
<rect x="1196" y="399" width="2" height="1" fill="#000"/>
<text transform="translate(1200.5,403.6) scale(0.94,1)" fill="#000">95.400</text>
<rect x="1196" y="432" width="2" height="1" fill="#000"/>
<text transform="translate(1200.5,436.6) scale(0.94,1)" fill="#000">93.960</text>
<rect x="1196" y="465" width="2" height="1" fill="#000"/>
<text transform="translate(1200.5,469.6) scale(0.94,1)" fill="#000">92.560</text>
<rect x="1196" y="471" width="2" height="1" fill="#000"/>
<rect x="1196" y="525" width="2" height="1" fill="#000"/>
<rect x="1196" y="567" width="2" height="1" fill="#000"/>
<text transform="translate(1198.5,481.8) scale(0.94,1)" fill="#000">2.5199</text>
<text transform="translate(1198.5,529.6) scale(0.94,1)" fill="#000">0.00</text>
<text transform="translate(1198.5,565.6) scale(0.94,1)" fill="#000">-2.0347</text>
<rect x="1196" y="571" width="2" height="1" fill="#000"/>
<rect x="1196" y="601" width="2" height="1" fill="#000"/>
<rect x="1196" y="641" width="2" height="1" fill="#000"/>
<rect x="1196" y="671" width="2" height="1" fill="#000"/>
<text transform="translate(1198.5,581.8) scale(0.94,1)" fill="#000">100</text>
<text transform="translate(1197.5,605.7) scale(0.94,1)" fill="#000">70</text>
<text transform="translate(1197.5,645.7) scale(0.94,1)" fill="#000">30</text>
<text transform="translate(1198.5,669.7) scale(0.94,1)" fill="#000">0</text>
<rect x="8" y="673" width="1" height="3" fill="#000"/>
<text transform="translate(6.5,685) scale(0.98,1)" fill="#000">7 Apr 2022</text>
<rect x="72" y="673" width="1" height="3" fill="#000"/>
<text transform="translate(70.5,685) scale(0.98,1)" fill="#000">8 Apr 16:00</text>
<rect x="136" y="673" width="1" height="3" fill="#000"/>
<text transform="translate(134.5,685) scale(0.98,1)" fill="#000">11 Apr 20:00</text>
<rect x="200" y="673" width="1" height="3" fill="#000"/>
<text transform="translate(198.5,685) scale(0.98,1)" fill="#000">13 Apr 04:00</text>
<rect x="264" y="673" width="1" height="3" fill="#000"/>
<text transform="translate(262.5,685) scale(0.98,1)" fill="#000">14 Apr 12:00</text>
<rect x="328" y="673" width="1" height="3" fill="#000"/>
<text transform="translate(326.5,685) scale(0.98,1)" fill="#000">18 Apr 16:00</text>
<rect x="392" y="673" width="1" height="3" fill="#000"/>
<text transform="translate(390.5,685) scale(0.98,1)" fill="#000">20 Apr 00:00</text>
<rect x="456" y="673" width="1" height="3" fill="#000"/>
<text transform="translate(454.5,685) scale(0.98,1)" fill="#000">21 Apr 08:00</text>
<rect x="520" y="673" width="1" height="3" fill="#000"/>
<text transform="translate(518.5,685) scale(0.98,1)" fill="#000">22 Apr 16:00</text>
<rect x="584" y="673" width="1" height="3" fill="#000"/>
<text transform="translate(582.5,685) scale(0.98,1)" fill="#000">25 Apr 20:00</text>
<rect x="648" y="673" width="1" height="3" fill="#000"/>
<text transform="translate(646.5,685) scale(0.98,1)" fill="#000">27 Apr 04:00</text>
<rect x="712" y="673" width="1" height="3" fill="#000"/>
<text transform="translate(710.5,685) scale(0.98,1)" fill="#000">28 Apr 12:00</text>
<rect x="776" y="673" width="1" height="3" fill="#000"/>
<text transform="translate(774.5,685) scale(0.98,1)" fill="#000">29 Apr 20:00</text>
<rect x="840" y="673" width="1" height="3" fill="#000"/>
<text transform="translate(838.5,685) scale(0.98,1)" fill="#000">3 May 00:00</text>
<rect x="904" y="673" width="1" height="3" fill="#000"/>
<text transform="translate(902.5,685) scale(0.98,1)" fill="#000">4 May 08:00</text>
<rect x="968" y="673" width="1" height="3" fill="#000"/>
<text transform="translate(966.5,685) scale(0.98,1)" fill="#000">5 May 16:00</text>
<rect x="1032" y="673" width="1" height="3" fill="#000"/>
<text transform="translate(1030.5,685) scale(0.98,1)" fill="#000">8 May 23:00</text>
<rect x="1096" y="673" width="1" height="3" fill="#000"/>
<text transform="translate(1094.5,685) scale(0.98,1)" fill="#000">10 May 04:00</text>
<rect x="1160" y="673" width="1" height="3" fill="#000"/>
<text transform="translate(1158.5,685) scale(0.98,1)" fill="#000">11 May 12:00</text>
<text transform="translate(22,19.6) scale(1.0,1)" fill="#000">USOil-,H4</text>
<text transform="translate(72,19.6) scale(0.915,1)" fill="#000">105.090</text>
<text transform="translate(108.3,19.6) scale(0.915,1)" fill="#000">105.818</text>
<text transform="translate(143.8,19.6) scale(0.915,1)" fill="#000">105.001</text>
<text transform="translate(179.6,19.6) scale(0.915,1)" fill="#000">105.687</text>
<text transform="translate(11,483.5) scale(0.94,1)" fill="#000">MACD(12,26,9) -0.6539 -1.3778</text>
<text transform="translate(11,583.5) scale(0.955,1)" fill="#000">RSI(14) 54.5050</text>
</g>
<path d="M11,14 L18,14 L14.5,18 Z" fill="#000"/>
<rect x="1198" y="124" width="39" height="11" fill="#ff0000"/>
<text transform="translate(1201,133.4) scale(0.9,1)" fill="#fff" font-family='"Liberation Sans", sans-serif' font-size="10px">107.000</text>
<rect x="1198" y="155" width="39" height="11" fill="#000000"/>
<text transform="translate(1201,164.4) scale(0.9,1)" fill="#fff" font-family='"Liberation Sans", sans-serif' font-size="10px">105.687</text>
<rect x="1198" y="205" width="39" height="11" fill="#00c800"/>
<text transform="translate(1201,214.4) scale(0.9,1)" fill="#fff" font-family='"Liberation Sans", sans-serif' font-size="10px">103.500</text>
<rect x="1198" y="286" width="39" height="11" fill="#4659e6"/>
<text transform="translate(1201,295.4) scale(0.9,1)" fill="#fff" font-family='"Liberation Sans", sans-serif' font-size="10px">100.000</text>
<rect x="1198" y="356" width="34" height="11" fill="#4659e6"/>
<text transform="translate(1201,365.4) scale(0.9,1)" fill="#fff" font-family='"Liberation Sans", sans-serif' font-size="10px">97.000</text>
<rect x="1198" y="449" width="34" height="11" fill="#4659e6"/>
<text transform="translate(1201,458.4) scale(0.9,1)" fill="#fff" font-family='"Liberation Sans", sans-serif' font-size="10px">93.000</text>
<g fill="none" stroke="#ff0000" stroke-width="2.4" stroke-linecap="butt" stroke-linejoin="miter">
<path d="M845.9,387 Q840,391.5 832.2,394"/>
<path d="M842.5,389.8 L855.3,389.8 Q849,398.5 834.5,401.5"/>
<path d="M839.6,395.3 L843.4,398.8"/>
<path d="M851.8,400.6 Q845,405.5 835.3,407.6"/>
<path d="M846,403.7 L859.7,403.7 Q852,414.5 832.1,416.9"/>
<path d="M842.8,408.9 L846.5,412.7"/>
<path d="M879.3,386.3 L881,389.8"/>
<path d="M866.5,396.4 L866.5,390.1 L894.6,390.1 L894.6,396.4"/>
<path d="M877.2,395.6 Q873,398.8 867.4,401.4"/>
<path d="M883.3,395.3 Q888.5,398 893.2,401.4"/>
<path d="M868.8,405.5 L892.3,405.5"/>
<path d="M880.4,405.5 L880.4,416.2"/>
<path d="M865.7,416.2 L895.2,416.2"/>
<path d="M899.5,391.8 L912.2,391.8"/>
<path d="M905.8,386.9 L900.9,402.6 L912.5,402.6"/>
<path d="M907.9,396.2 L907.9,418.2"/>
<path d="M899.8,411 L913.4,408.4"/>
<path d="M914.5,391.8 L930.8,391.8"/>
<path d="M913.7,398.8 L931.3,398.8"/>
<path d="M922.1,386.9 L916.9,405.2 L929.3,405.2 L923.2,412.7"/>
<path d="M916.6,411 L927.6,417.1"/>
<path d="M935.4,393.9 L946.7,393.9"/>
<path d="M941.5,386.6 L941.5,415.6 Q941.5,416.8 939.5,416.8 L936.6,416.8"/>
<path d="M935.1,406 L946.7,401.7"/>
<path d="M964.4,387.5 Q957,389.3 950.2,389.5 L950.2,404 Q949.5,412 945.8,417.3"/>
<path d="M950.2,398.8 L966.1,398.8"/>
<path d="M959.7,398.8 L959.7,418.2"/>
<path d="M984.9,386.3 L984.9,397.4"/>
<path d="M984.9,391 L999.6,391"/>
<path d="M975.3,397.9 L996.2,397.9 L996.2,406.6 L975.3,406.6 Z"/>
<path d="M975,410.4 L970.7,417.3"/>
<path d="M980.5,411 L982.3,417.9"/>
<path d="M988,410.7 L990.4,417.6"/>
<path d="M995.6,410.4 L999.9,417.1"/>
<path d="M1004.4,395.7 L1012.2,390.4 L1012.2,414.9"/>
<path d="M1041.3,396.5 C1041.5,392.5 1044.5,390.5 1048.5,390.5 C1052.8,390.5 1055.6,393 1055.6,396.2 C1055.6,399.8 1052.5,401.9 1047.5,401.9 L1046,401.9"/>
<path d="M1047.5,401.9 C1053.5,401.9 1056.3,404.5 1056.3,408.1 C1056.3,412 1053,414.2 1048.5,414.2 C1043.5,414.2 1040.8,411.5 1040.5,407.5"/>
<path d="M1086.3,390.6 L1073.2,390.6 L1071.5,402.3 C1073.2,400.6 1075.4,399.6 1078.3,399.6 C1083.3,399.6 1086.3,403 1086.3,407.2 C1086.3,411.5 1083,414.2 1078.3,414.2 C1074,414.2 1071.2,412 1070.6,408.5"/>
<ellipse cx="1027.4" cy="402.35" rx="7.9" ry="11.75"/>
</g>
<circle cx="1063.7" cy="412.8" r="2.3" fill="#ff0000"/>
</svg>
</body></html>
